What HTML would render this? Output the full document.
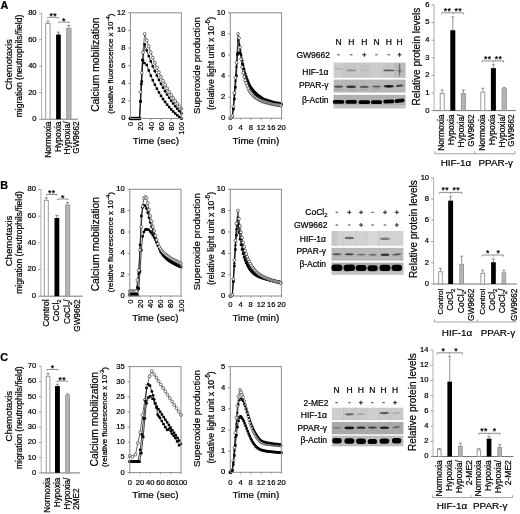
<!DOCTYPE html>
<html><head><meta charset="utf-8"><title>Figure</title>
<style>
html,body{margin:0;padding:0;background:#fff;}
svg{display:block;font-family:'Liberation Sans', Arial, sans-serif;} text{fill:#000;stroke:#000;stroke-width:0.22px;}
</style></head><body>
<svg width="520" height="514" viewBox="0 0 520 514">
<defs><filter id="bl" x="-5%" y="-5%" width="110%" height="110%"><feGaussianBlur stdDeviation="0.45"/></filter><filter id="soft" x="0" y="0" width="520" height="514" filterUnits="userSpaceOnUse"><feGaussianBlur stdDeviation="0.35"/></filter></defs>
<rect width="520" height="514" fill="#fff"/>
<g filter="url(#soft)">
<text x="0.6" y="9" font-size="10.8" font-weight="bold">A</text>
<line x1="41.6" y1="13.2" x2="41.6" y2="119.2" stroke="#b0b0b0" stroke-width="1"/>
<line x1="41.1" y1="119.2" x2="78" y2="119.2" stroke="#777" stroke-width="1"/>
<line x1="39.1" y1="119.2" x2="41.6" y2="119.2" stroke="#a0a0a0" stroke-width="1"/>
<text x="36.6" y="121.1" font-size="7.6" text-anchor="end">0</text>
<line x1="39.1" y1="92.7" x2="41.6" y2="92.7" stroke="#a0a0a0" stroke-width="1"/>
<text x="36.6" y="94.6" font-size="7.6" text-anchor="end">20</text>
<line x1="39.1" y1="66.2" x2="41.6" y2="66.2" stroke="#a0a0a0" stroke-width="1"/>
<text x="36.6" y="68.1" font-size="7.6" text-anchor="end">40</text>
<line x1="39.1" y1="39.7" x2="41.6" y2="39.7" stroke="#a0a0a0" stroke-width="1"/>
<text x="36.6" y="41.6" font-size="7.6" text-anchor="end">60</text>
<line x1="39.1" y1="13.2" x2="41.6" y2="13.2" stroke="#a0a0a0" stroke-width="1"/>
<text x="36.6" y="15.1" font-size="7.6" text-anchor="end">80</text>
<line x1="47.9" y1="23.01" x2="47.9" y2="21.02" stroke="#666" stroke-width="0.8"/>
<line x1="46.4" y1="21.02" x2="49.4" y2="21.02" stroke="#666" stroke-width="0.8"/>
<rect x="45.7" y="23.51" width="4.4" height="95.69" fill="#fff" stroke="#999" stroke-width="1"/>
<line x1="58.45" y1="34.53" x2="58.45" y2="32.15" stroke="#666" stroke-width="0.8"/>
<line x1="56.95" y1="32.15" x2="59.95" y2="32.15" stroke="#666" stroke-width="0.8"/>
<rect x="56.1" y="34.53" width="4.7" height="84.67" fill="#000"/>
<line x1="68.85" y1="27.78" x2="68.85" y2="25.39" stroke="#666" stroke-width="0.8"/>
<line x1="67.35" y1="25.39" x2="70.35" y2="25.39" stroke="#666" stroke-width="0.8"/>
<rect x="66.7" y="28.28" width="4.3" height="90.92" fill="#b4b4b4" stroke="#999" stroke-width="1"/>
<text x="50.6" y="121.4" font-size="8.5" text-anchor="end" transform="rotate(-90 50.6 121.4)">Normoxia</text>
<text x="61.3" y="121.4" font-size="8.5" text-anchor="end" transform="rotate(-90 61.3 121.4)">Hypoxia</text>
<text x="70" y="121.4" font-size="8.5" text-anchor="end" transform="rotate(-90 70 121.4)">Hypoxia/</text>
<text x="79.4" y="121.4" font-size="8.5" text-anchor="end" transform="rotate(-90 79.4 121.4)"><tspan font-size="8.2">GW9662</tspan></text>
<polyline points="47.7,18.6 47.7,17.4 58.6,17.4 58.6,18.6" fill="none" stroke="#777" stroke-width="0.8"/>
<text x="53.15" y="18.9" font-size="8.7" text-anchor="middle" stroke-width="0.1" letter-spacing="0.3">**</text>
<polyline points="58.6,23.3 58.6,22.1 69.1,22.1 69.1,23.3" fill="none" stroke="#777" stroke-width="0.8"/>
<text x="63.85" y="23.6" font-size="8.7" text-anchor="middle" stroke-width="0.1" letter-spacing="0.3">*</text>
<text x="11.8" y="64.5" font-size="9.6" text-anchor="middle" transform="rotate(-90 11.8 64.5)" stroke-width="0.12">Chemotaxis</text>
<text x="22" y="66" font-size="8.5" text-anchor="middle" transform="rotate(-90 22 66)">migration (neutrophils/field)</text>
<text x="0.3" y="188.6" font-size="10.8" font-weight="bold">B</text>
<line x1="40.9" y1="189.5" x2="40.9" y2="296.2" stroke="#b0b0b0" stroke-width="1"/>
<line x1="40.4" y1="296.2" x2="82.7" y2="296.2" stroke="#777" stroke-width="1"/>
<line x1="38.4" y1="296.2" x2="40.9" y2="296.2" stroke="#a0a0a0" stroke-width="1"/>
<text x="35.9" y="298.1" font-size="7.6" text-anchor="end">0</text>
<line x1="38.4" y1="269.52" x2="40.9" y2="269.52" stroke="#a0a0a0" stroke-width="1"/>
<text x="35.9" y="271.42" font-size="7.6" text-anchor="end">20</text>
<line x1="38.4" y1="242.85" x2="40.9" y2="242.85" stroke="#a0a0a0" stroke-width="1"/>
<text x="35.9" y="244.75" font-size="7.6" text-anchor="end">40</text>
<line x1="38.4" y1="216.18" x2="40.9" y2="216.18" stroke="#a0a0a0" stroke-width="1"/>
<text x="35.9" y="218.08" font-size="7.6" text-anchor="end">60</text>
<line x1="38.4" y1="189.5" x2="40.9" y2="189.5" stroke="#a0a0a0" stroke-width="1"/>
<text x="35.9" y="191.4" font-size="7.6" text-anchor="end">80</text>
<line x1="46.3" y1="199.9" x2="46.3" y2="197.9" stroke="#666" stroke-width="0.8"/>
<line x1="44.8" y1="197.9" x2="47.8" y2="197.9" stroke="#666" stroke-width="0.8"/>
<rect x="44.3" y="200.4" width="4" height="95.8" fill="#fff" stroke="#999" stroke-width="1"/>
<line x1="56.9" y1="218.04" x2="56.9" y2="215.37" stroke="#666" stroke-width="0.8"/>
<line x1="55.4" y1="215.37" x2="58.4" y2="215.37" stroke="#666" stroke-width="0.8"/>
<rect x="54.5" y="218.04" width="4.8" height="78.16" fill="#000"/>
<line x1="67.7" y1="204.44" x2="67.7" y2="202.44" stroke="#666" stroke-width="0.8"/>
<line x1="66.2" y1="202.44" x2="69.2" y2="202.44" stroke="#666" stroke-width="0.8"/>
<rect x="65.7" y="204.94" width="4" height="91.26" fill="#b4b4b4" stroke="#999" stroke-width="1"/>
<text x="48.6" y="299.4" font-size="8.5" text-anchor="end" transform="rotate(-90 48.6 299.4)">Control</text>
<text x="59.3" y="299.4" font-size="8.5" text-anchor="end" transform="rotate(-90 59.3 299.4)">CoCl<tspan font-size="70%" dy="2">2</tspan></text>
<text x="70" y="299.4" font-size="8.5" text-anchor="end" transform="rotate(-90 70 299.4)">CoCl<tspan font-size="70%" dy="2">2</tspan><tspan dy="-2">/</tspan></text>
<text x="79.7" y="299.4" font-size="8.5" text-anchor="end" transform="rotate(-90 79.7 299.4)"><tspan font-size="8.2">GW9662</tspan></text>
<polyline points="46.5,195.7 46.5,194.5 57,194.5 57,195.7" fill="none" stroke="#777" stroke-width="0.8"/>
<text x="51.75" y="196" font-size="8.7" text-anchor="middle" stroke-width="0.1" letter-spacing="0.3">**</text>
<polyline points="57.5,200.2 57.5,199 68,199 68,200.2" fill="none" stroke="#777" stroke-width="0.8"/>
<text x="62.75" y="200.5" font-size="8.7" text-anchor="middle" stroke-width="0.1" letter-spacing="0.3">*</text>
<text x="11.8" y="241" font-size="9.6" text-anchor="middle" transform="rotate(-90 11.8 241)" stroke-width="0.12">Chemotaxis</text>
<text x="22" y="242.5" font-size="8.5" text-anchor="middle" transform="rotate(-90 22 242.5)">migration (neutrophils/field)</text>
<text x="0.3" y="361.2" font-size="10.8" font-weight="bold">C</text>
<line x1="41.2" y1="366.3" x2="41.2" y2="472.9" stroke="#b0b0b0" stroke-width="1"/>
<line x1="40.7" y1="472.9" x2="79.8" y2="472.9" stroke="#777" stroke-width="1"/>
<line x1="38.7" y1="472.9" x2="41.2" y2="472.9" stroke="#a0a0a0" stroke-width="1"/>
<text x="36.2" y="474.8" font-size="7.6" text-anchor="end">0</text>
<line x1="38.7" y1="457.67" x2="41.2" y2="457.67" stroke="#a0a0a0" stroke-width="1"/>
<text x="36.2" y="459.57" font-size="7.6" text-anchor="end">10</text>
<line x1="38.7" y1="442.44" x2="41.2" y2="442.44" stroke="#a0a0a0" stroke-width="1"/>
<text x="36.2" y="444.34" font-size="7.6" text-anchor="end">20</text>
<line x1="38.7" y1="427.21" x2="41.2" y2="427.21" stroke="#a0a0a0" stroke-width="1"/>
<text x="36.2" y="429.11" font-size="7.6" text-anchor="end">30</text>
<line x1="38.7" y1="411.99" x2="41.2" y2="411.99" stroke="#a0a0a0" stroke-width="1"/>
<text x="36.2" y="413.89" font-size="7.6" text-anchor="end">40</text>
<line x1="38.7" y1="396.76" x2="41.2" y2="396.76" stroke="#a0a0a0" stroke-width="1"/>
<text x="36.2" y="398.66" font-size="7.6" text-anchor="end">50</text>
<line x1="38.7" y1="381.53" x2="41.2" y2="381.53" stroke="#a0a0a0" stroke-width="1"/>
<text x="36.2" y="383.43" font-size="7.6" text-anchor="end">60</text>
<line x1="38.7" y1="366.3" x2="41.2" y2="366.3" stroke="#a0a0a0" stroke-width="1"/>
<text x="36.2" y="368.2" font-size="7.6" text-anchor="end">70</text>
<line x1="48.05" y1="375.74" x2="48.05" y2="373.31" stroke="#666" stroke-width="0.8"/>
<line x1="46.55" y1="373.31" x2="49.55" y2="373.31" stroke="#666" stroke-width="0.8"/>
<rect x="46.2" y="376.24" width="3.7" height="96.66" fill="#fff" stroke="#999" stroke-width="1"/>
<line x1="57.45" y1="386.1" x2="57.45" y2="384.27" stroke="#666" stroke-width="0.8"/>
<line x1="55.95" y1="384.27" x2="58.95" y2="384.27" stroke="#666" stroke-width="0.8"/>
<rect x="55" y="386.1" width="4.9" height="86.8" fill="#000"/>
<line x1="67.6" y1="394.78" x2="67.6" y2="393.86" stroke="#666" stroke-width="0.8"/>
<line x1="66.1" y1="393.86" x2="69.1" y2="393.86" stroke="#666" stroke-width="0.8"/>
<rect x="65.7" y="395.28" width="3.8" height="77.62" fill="#b4b4b4" stroke="#999" stroke-width="1"/>
<text x="49.6" y="477.6" font-size="8.2" text-anchor="end" transform="rotate(-90 49.6 477.6)">Normoxia</text>
<text x="60.3" y="477.6" font-size="8.2" text-anchor="end" transform="rotate(-90 60.3 477.6)">Hypoxia</text>
<text x="70" y="477.6" font-size="8.2" text-anchor="end" transform="rotate(-90 70 477.6)">Hypoxia/</text>
<text x="79.4" y="509.8" font-size="8.2" transform="rotate(-90 79.4 509.8)">2ME2</text>
<polyline points="47,370.7 47,369.5 58,369.5 58,370.7" fill="none" stroke="#777" stroke-width="0.8"/>
<text x="52.5" y="371" font-size="8.7" text-anchor="middle" stroke-width="0.1" letter-spacing="0.3">*</text>
<polyline points="57,382.2 57,381 67.5,381 67.5,382.2" fill="none" stroke="#777" stroke-width="0.8"/>
<text x="62.25" y="382.5" font-size="8.7" text-anchor="middle" stroke-width="0.1" letter-spacing="0.3">**</text>
<text x="11.8" y="416.2" font-size="9.6" text-anchor="middle" transform="rotate(-90 11.8 416.2)" stroke-width="0.12">Chemotaxis</text>
<text x="22" y="417.7" font-size="8.5" text-anchor="middle" transform="rotate(-90 22 417.7)">migration (neutrophils/field)</text>
<line x1="128.2" y1="118.5" x2="130.4" y2="118.5" stroke="#8c8c8c" stroke-width="1"/>
<text x="125.4" y="120.4" font-size="7.6" text-anchor="end">0</text>
<line x1="128.2" y1="100.88" x2="130.4" y2="100.88" stroke="#8c8c8c" stroke-width="1"/>
<text x="125.4" y="102.78" font-size="7.6" text-anchor="end">2</text>
<line x1="128.2" y1="83.27" x2="130.4" y2="83.27" stroke="#8c8c8c" stroke-width="1"/>
<text x="125.4" y="85.17" font-size="7.6" text-anchor="end">4</text>
<line x1="128.2" y1="65.65" x2="130.4" y2="65.65" stroke="#8c8c8c" stroke-width="1"/>
<text x="125.4" y="67.55" font-size="7.6" text-anchor="end">6</text>
<line x1="128.2" y1="48.03" x2="130.4" y2="48.03" stroke="#8c8c8c" stroke-width="1"/>
<text x="125.4" y="49.93" font-size="7.6" text-anchor="end">8</text>
<line x1="128.2" y1="30.42" x2="130.4" y2="30.42" stroke="#8c8c8c" stroke-width="1"/>
<text x="125.4" y="32.32" font-size="7.6" text-anchor="end">10</text>
<line x1="128.2" y1="12.8" x2="130.4" y2="12.8" stroke="#8c8c8c" stroke-width="1"/>
<text x="125.4" y="14.7" font-size="7.6" text-anchor="end">12</text>
<line x1="130.4" y1="118.5" x2="130.4" y2="120" stroke="#8c8c8c" stroke-width="1"/>
<text x="133.1" y="122" font-size="7.6" text-anchor="end" transform="rotate(-90 133.1 122)">0</text>
<line x1="140.6" y1="118.5" x2="140.6" y2="120" stroke="#8c8c8c" stroke-width="1"/>
<text x="143.3" y="122" font-size="7.6" text-anchor="end" transform="rotate(-90 143.3 122)">20</text>
<line x1="150.8" y1="118.5" x2="150.8" y2="120" stroke="#8c8c8c" stroke-width="1"/>
<text x="153.5" y="122" font-size="7.6" text-anchor="end" transform="rotate(-90 153.5 122)">40</text>
<line x1="161" y1="118.5" x2="161" y2="120" stroke="#8c8c8c" stroke-width="1"/>
<text x="163.7" y="122" font-size="7.6" text-anchor="end" transform="rotate(-90 163.7 122)">60</text>
<line x1="171.2" y1="118.5" x2="171.2" y2="120" stroke="#8c8c8c" stroke-width="1"/>
<text x="173.9" y="122" font-size="7.6" text-anchor="end" transform="rotate(-90 173.9 122)">80</text>
<line x1="181.4" y1="118.5" x2="181.4" y2="120" stroke="#8c8c8c" stroke-width="1"/>
<text x="184.1" y="122" font-size="7.6" text-anchor="end" transform="rotate(-90 184.1 122)">100</text>
<g>
<polyline points="130.4,118.5 131.93,118.5 133.46,118.5 134.99,118.5 136.52,118.5 138.05,118.5 139.58,118.5 140.6,92.08 141.77,72.7 142.9,52.44 144.68,33.94 146.72,40.41 148.76,46.53 150.8,52.3 152.84,57.75 154.88,62.9 156.92,67.77 158.96,72.36 161,76.7 163.04,80.79 165.08,84.66 167.12,88.32 169.16,91.77 171.2,95.03 173.24,98.11 175.28,101.02 177.32,103.77 179.36,106.36 181.4,108.81" fill="none" stroke="#000" stroke-width="0.6"/>
<polyline points="130.4,118.5 131.93,118.5 133.46,118.5 134.99,118.5 136.52,118.5 138.05,118.5 139.58,118.5 140.6,100.88 141.77,81.5 142.9,60.37 144.68,44.51 146.72,50.47 148.76,56.1 150.8,61.42 152.84,66.44 154.88,71.19 156.92,75.67 158.96,79.9 161,83.9 163.04,87.67 165.08,91.24 167.12,94.6 169.16,97.78 171.2,100.79 173.24,103.62 175.28,106.3 177.32,108.83 179.36,111.22 181.4,113.48" fill="none" stroke="#000" stroke-width="0.75"/>
<polyline points="130.4,118.5 131.93,118.5 133.46,118.5 134.99,118.5 136.52,118.5 138.05,118.5 139.58,118.5 140.5,101.76 141.37,84.15 142.49,59.92 144.43,63.01 146.72,64.95 148.76,70.48 150.8,75.6 152.84,80.32 154.88,84.68 156.92,88.7 158.96,92.41 161,95.84 163.04,99 165.08,101.93 167.12,104.62 169.16,107.11 171.2,109.41 173.24,111.53 175.28,113.49 177.32,115.3 179.36,116.96 181.4,118.5" fill="none" stroke="#000" stroke-width="0.75"/>
<circle cx="130.4" cy="118.5" r="1.45" fill="#fff" stroke="#111" stroke-width="0.55"/>
<circle cx="131.93" cy="118.5" r="1.45" fill="#fff" stroke="#111" stroke-width="0.55"/>
<circle cx="133.46" cy="118.5" r="1.45" fill="#fff" stroke="#111" stroke-width="0.55"/>
<circle cx="134.99" cy="118.5" r="1.45" fill="#fff" stroke="#111" stroke-width="0.55"/>
<circle cx="136.52" cy="118.5" r="1.45" fill="#fff" stroke="#111" stroke-width="0.55"/>
<circle cx="138.05" cy="118.5" r="1.45" fill="#fff" stroke="#111" stroke-width="0.55"/>
<circle cx="139.58" cy="118.5" r="1.45" fill="#fff" stroke="#111" stroke-width="0.55"/>
<circle cx="140.6" cy="92.08" r="1.45" fill="#fff" stroke="#111" stroke-width="0.55"/>
<circle cx="141.77" cy="72.7" r="1.45" fill="#fff" stroke="#111" stroke-width="0.55"/>
<circle cx="142.9" cy="52.44" r="1.45" fill="#fff" stroke="#111" stroke-width="0.55"/>
<circle cx="144.68" cy="33.94" r="1.45" fill="#fff" stroke="#111" stroke-width="0.55"/>
<circle cx="146.72" cy="40.41" r="1.45" fill="#fff" stroke="#111" stroke-width="0.55"/>
<circle cx="148.76" cy="46.53" r="1.45" fill="#fff" stroke="#111" stroke-width="0.55"/>
<circle cx="150.8" cy="52.3" r="1.45" fill="#fff" stroke="#111" stroke-width="0.55"/>
<circle cx="152.84" cy="57.75" r="1.45" fill="#fff" stroke="#111" stroke-width="0.55"/>
<circle cx="154.88" cy="62.9" r="1.45" fill="#fff" stroke="#111" stroke-width="0.55"/>
<circle cx="156.92" cy="67.77" r="1.45" fill="#fff" stroke="#111" stroke-width="0.55"/>
<circle cx="158.96" cy="72.36" r="1.45" fill="#fff" stroke="#111" stroke-width="0.55"/>
<circle cx="161" cy="76.7" r="1.45" fill="#fff" stroke="#111" stroke-width="0.55"/>
<circle cx="163.04" cy="80.79" r="1.45" fill="#fff" stroke="#111" stroke-width="0.55"/>
<circle cx="165.08" cy="84.66" r="1.45" fill="#fff" stroke="#111" stroke-width="0.55"/>
<circle cx="167.12" cy="88.32" r="1.45" fill="#fff" stroke="#111" stroke-width="0.55"/>
<circle cx="169.16" cy="91.77" r="1.45" fill="#fff" stroke="#111" stroke-width="0.55"/>
<circle cx="171.2" cy="95.03" r="1.45" fill="#fff" stroke="#111" stroke-width="0.55"/>
<circle cx="173.24" cy="98.11" r="1.45" fill="#fff" stroke="#111" stroke-width="0.55"/>
<circle cx="175.28" cy="101.02" r="1.45" fill="#fff" stroke="#111" stroke-width="0.55"/>
<circle cx="177.32" cy="103.77" r="1.45" fill="#fff" stroke="#111" stroke-width="0.55"/>
<circle cx="179.36" cy="106.36" r="1.45" fill="#fff" stroke="#111" stroke-width="0.55"/>
<circle cx="181.4" cy="108.81" r="1.45" fill="#fff" stroke="#111" stroke-width="0.55"/>
<circle cx="130.4" cy="118.5" r="1.4" fill="#000"/>
<circle cx="131.93" cy="118.5" r="1.4" fill="#000"/>
<circle cx="133.46" cy="118.5" r="1.4" fill="#000"/>
<circle cx="134.99" cy="118.5" r="1.4" fill="#000"/>
<circle cx="136.52" cy="118.5" r="1.4" fill="#000"/>
<circle cx="138.05" cy="118.5" r="1.4" fill="#000"/>
<circle cx="139.58" cy="118.5" r="1.4" fill="#000"/>
<circle cx="140.6" cy="100.88" r="1.4" fill="#000"/>
<circle cx="141.77" cy="81.5" r="1.4" fill="#000"/>
<circle cx="142.9" cy="60.37" r="1.4" fill="#000"/>
<circle cx="144.68" cy="44.51" r="1.4" fill="#000"/>
<circle cx="146.72" cy="50.47" r="1.4" fill="#000"/>
<circle cx="148.76" cy="56.1" r="1.4" fill="#000"/>
<circle cx="150.8" cy="61.42" r="1.4" fill="#000"/>
<circle cx="152.84" cy="66.44" r="1.4" fill="#000"/>
<circle cx="154.88" cy="71.19" r="1.4" fill="#000"/>
<circle cx="156.92" cy="75.67" r="1.4" fill="#000"/>
<circle cx="158.96" cy="79.9" r="1.4" fill="#000"/>
<circle cx="161" cy="83.9" r="1.4" fill="#000"/>
<circle cx="163.04" cy="87.67" r="1.4" fill="#000"/>
<circle cx="165.08" cy="91.24" r="1.4" fill="#000"/>
<circle cx="167.12" cy="94.6" r="1.4" fill="#000"/>
<circle cx="169.16" cy="97.78" r="1.4" fill="#000"/>
<circle cx="171.2" cy="100.79" r="1.4" fill="#000"/>
<circle cx="173.24" cy="103.62" r="1.4" fill="#000"/>
<circle cx="175.28" cy="106.3" r="1.4" fill="#000"/>
<circle cx="177.32" cy="108.83" r="1.4" fill="#000"/>
<circle cx="179.36" cy="111.22" r="1.4" fill="#000"/>
<circle cx="181.4" cy="113.48" r="1.4" fill="#000"/>
<rect x="129.15" y="117.25" width="2.5" height="2.5" fill="#000"/>
<rect x="130.68" y="117.25" width="2.5" height="2.5" fill="#000"/>
<rect x="132.21" y="117.25" width="2.5" height="2.5" fill="#000"/>
<rect x="133.74" y="117.25" width="2.5" height="2.5" fill="#000"/>
<rect x="135.27" y="117.25" width="2.5" height="2.5" fill="#000"/>
<rect x="136.8" y="117.25" width="2.5" height="2.5" fill="#000"/>
<rect x="138.33" y="117.25" width="2.5" height="2.5" fill="#000"/>
<rect x="139.25" y="100.51" width="2.5" height="2.5" fill="#000"/>
<rect x="140.12" y="82.9" width="2.5" height="2.5" fill="#000"/>
<rect x="141.24" y="58.67" width="2.5" height="2.5" fill="#000"/>
<rect x="143.18" y="61.76" width="2.5" height="2.5" fill="#000"/>
<rect x="145.47" y="63.7" width="2.5" height="2.5" fill="#000"/>
<rect x="147.51" y="69.23" width="2.5" height="2.5" fill="#000"/>
<rect x="149.55" y="74.35" width="2.5" height="2.5" fill="#000"/>
<rect x="151.59" y="79.07" width="2.5" height="2.5" fill="#000"/>
<rect x="153.63" y="83.43" width="2.5" height="2.5" fill="#000"/>
<rect x="155.67" y="87.45" width="2.5" height="2.5" fill="#000"/>
<rect x="157.71" y="91.16" width="2.5" height="2.5" fill="#000"/>
<rect x="159.75" y="94.59" width="2.5" height="2.5" fill="#000"/>
<rect x="161.79" y="97.75" width="2.5" height="2.5" fill="#000"/>
<rect x="163.83" y="100.68" width="2.5" height="2.5" fill="#000"/>
<rect x="165.87" y="103.37" width="2.5" height="2.5" fill="#000"/>
<rect x="167.91" y="105.86" width="2.5" height="2.5" fill="#000"/>
<rect x="169.95" y="108.16" width="2.5" height="2.5" fill="#000"/>
<rect x="171.99" y="110.28" width="2.5" height="2.5" fill="#000"/>
<rect x="174.03" y="112.24" width="2.5" height="2.5" fill="#000"/>
<rect x="176.07" y="114.05" width="2.5" height="2.5" fill="#000"/>
<rect x="178.11" y="115.71" width="2.5" height="2.5" fill="#000"/>
<rect x="180.15" y="117.25" width="2.5" height="2.5" fill="#000"/>
</g>
<rect x="130.4" y="12.8" width="51" height="105.7" fill="none" stroke="#8c8c8c" stroke-width="1"/>
<text x="98.9" y="64.65" font-size="10.3" text-anchor="middle" transform="rotate(-90 98.9 64.65)" stroke-width="0.12">Calcium mobilization</text>
<text x="113.3" y="63.65" font-size="7.9" text-anchor="middle" transform="rotate(-90 113.3 63.65)">(relative fluorescence x 10<tspan font-size="5.93" dy="-3.6">-4</tspan><tspan dy="3.6">)</tspan></text>
<text x="155.9" y="144.2" font-size="9.9" text-anchor="middle" stroke-width="0.12">Time (sec)</text>
<line x1="228.1" y1="118.2" x2="230.3" y2="118.2" stroke="#8c8c8c" stroke-width="1"/>
<text x="225.3" y="120.1" font-size="7.6" text-anchor="end">0</text>
<line x1="228.1" y1="97.12" x2="230.3" y2="97.12" stroke="#8c8c8c" stroke-width="1"/>
<text x="225.3" y="99.02" font-size="7.6" text-anchor="end">2</text>
<line x1="228.1" y1="76.04" x2="230.3" y2="76.04" stroke="#8c8c8c" stroke-width="1"/>
<text x="225.3" y="77.94" font-size="7.6" text-anchor="end">4</text>
<line x1="228.1" y1="54.96" x2="230.3" y2="54.96" stroke="#8c8c8c" stroke-width="1"/>
<text x="225.3" y="56.86" font-size="7.6" text-anchor="end">6</text>
<line x1="228.1" y1="33.88" x2="230.3" y2="33.88" stroke="#8c8c8c" stroke-width="1"/>
<text x="225.3" y="35.78" font-size="7.6" text-anchor="end">8</text>
<line x1="228.1" y1="12.8" x2="230.3" y2="12.8" stroke="#8c8c8c" stroke-width="1"/>
<text x="225.3" y="14.7" font-size="7.6" text-anchor="end">10</text>
<line x1="230.3" y1="118.2" x2="230.3" y2="119.7" stroke="#8c8c8c" stroke-width="1"/>
<text x="230.3" y="130.3" font-size="7.6" text-anchor="middle">0</text>
<line x1="240.56" y1="118.2" x2="240.56" y2="119.7" stroke="#8c8c8c" stroke-width="1"/>
<text x="240.56" y="130.3" font-size="7.6" text-anchor="middle">4</text>
<line x1="250.82" y1="118.2" x2="250.82" y2="119.7" stroke="#8c8c8c" stroke-width="1"/>
<text x="250.82" y="130.3" font-size="7.6" text-anchor="middle">8</text>
<line x1="261.08" y1="118.2" x2="261.08" y2="119.7" stroke="#8c8c8c" stroke-width="1"/>
<text x="261.08" y="130.3" font-size="7.6" text-anchor="middle">12</text>
<line x1="271.34" y1="118.2" x2="271.34" y2="119.7" stroke="#8c8c8c" stroke-width="1"/>
<text x="271.34" y="130.3" font-size="7.6" text-anchor="middle">16</text>
<line x1="281.6" y1="118.2" x2="281.6" y2="119.7" stroke="#8c8c8c" stroke-width="1"/>
<text x="281.6" y="130.3" font-size="7.6" text-anchor="middle">20</text>
<g>
<polyline points="230.3,118.2 231.33,117.41 232.35,115.84 233.38,107.21 234.4,94.64 235.43,80.51 236.46,66.37 237.48,54.6 238.25,39.68 239.28,44.31 240.3,49.43 241.33,54.7 242.36,59.85 243.38,64.97 244.41,68.93 245.43,72.88 246.46,75.78 247.49,78.68 248.51,81.17 249.54,83.66 250.56,85.88 251.59,87.28 252.62,88.69 253.64,90.09 254.67,91.29 255.69,92.27 256.72,93.26 257.75,94.24 258.77,95.03 259.8,95.77 260.82,96.5 261.85,97.23 262.88,97.97 263.9,98.7 264.93,99.03 265.95,99.37 266.98,99.7 268.01,100.03 269.03,100.37 270.06,100.7 271.08,101.03 272.11,101.36 273.14,101.7 274.16,101.96 275.19,102.16 276.21,102.36 277.24,102.55 278.27,102.75 279.29,102.95 280.32,103.15 281.34,103.35" fill="none" stroke="#000" stroke-width="0.75"/>
<polyline points="230.3,118.2 231.33,117.56 232.35,116.27 233.38,109.2 234.4,98.91 235.43,87.34 236.46,75.77 237.48,53.91 238.51,52.85 239.53,52.85 240.56,53.91 241.59,59.18 242.61,64.09 243.64,68.66 244.66,72.88 245.69,76.76 246.72,79.66 247.74,82.41 248.77,84.71 249.79,87.01 250.82,88.86 251.85,90.27 252.87,91.67 253.9,93.08 254.92,94.17 255.95,95.15 256.98,96.14 258,97.12 259.03,97.67 260.05,98.22 261.08,98.77 262.11,99.32 263.13,99.87 264.16,100.36 265.18,100.66 266.21,100.96 267.24,101.26 268.26,101.56 269.29,101.85 270.31,102.15 271.34,102.45 272.37,102.75 273.39,103.05 274.42,103.26 275.44,103.43 276.47,103.6 277.5,103.77 278.52,103.94 279.55,104.11 280.57,104.28 281.6,104.46" fill="none" stroke="#000" stroke-width="0.75"/>
<polyline points="230.3,118.2 231.33,117.36 232.35,115.67 233.38,106.4 234.4,92.9 235.43,77.73 236.46,62.55 238,33.88 239.02,38.1 240.05,47.58 241.07,59.18 242.1,67.08 243.13,72.81 244.15,77.08 245.18,80.32 246.2,83.22 247.23,85.81 248.26,88.3 249.28,90.8 250.31,92.02 251.33,93.24 252.36,94.46 253.39,95.68 254.41,96.76 255.44,97.43 256.46,98.09 257.49,98.76 258.52,99.42 259.54,99.98 260.57,100.42 261.59,100.86 262.62,101.31 263.65,101.75 264.67,102.05 265.7,102.31 266.72,102.56 267.75,102.82 268.78,103.08 269.8,103.33 270.83,103.59 271.85,103.84 272.88,104.1 273.91,104.33 274.93,104.48 275.96,104.64 276.98,104.8 278.01,104.96 279.04,105.12 280.06,105.28 281.09,105.43" fill="none" stroke="#000" stroke-width="0.6"/>
<path d="M230.3 116.7L231.7 119.3L228.9 119.3Z" fill="#000"/>
<path d="M231.33 115.91L232.73 118.51L229.93 118.51Z" fill="#000"/>
<path d="M232.35 114.34L233.75 116.94L230.95 116.94Z" fill="#000"/>
<path d="M233.38 105.71L234.78 108.31L231.98 108.31Z" fill="#000"/>
<path d="M234.4 93.14L235.8 95.74L233 95.74Z" fill="#000"/>
<path d="M235.43 79.01L236.83 81.61L234.03 81.61Z" fill="#000"/>
<path d="M236.46 64.87L237.86 67.47L235.06 67.47Z" fill="#000"/>
<path d="M237.48 53.1L238.88 55.7L236.08 55.7Z" fill="#000"/>
<path d="M238.25 38.18L239.65 40.78L236.85 40.78Z" fill="#000"/>
<path d="M239.28 42.81L240.68 45.41L237.88 45.41Z" fill="#000"/>
<path d="M240.3 47.93L241.7 50.53L238.9 50.53Z" fill="#000"/>
<path d="M241.33 53.2L242.73 55.8L239.93 55.8Z" fill="#000"/>
<path d="M242.36 58.35L243.76 60.95L240.96 60.95Z" fill="#000"/>
<path d="M243.38 63.47L244.78 66.07L241.98 66.07Z" fill="#000"/>
<path d="M244.41 67.43L245.81 70.03L243.01 70.03Z" fill="#000"/>
<path d="M245.43 71.38L246.83 73.98L244.03 73.98Z" fill="#000"/>
<path d="M246.46 74.28L247.86 76.88L245.06 76.88Z" fill="#000"/>
<path d="M247.49 77.18L248.89 79.78L246.09 79.78Z" fill="#000"/>
<path d="M248.51 79.67L249.91 82.27L247.11 82.27Z" fill="#000"/>
<path d="M249.54 82.16L250.94 84.76L248.14 84.76Z" fill="#000"/>
<path d="M250.56 84.38L251.96 86.98L249.16 86.98Z" fill="#000"/>
<path d="M251.59 85.78L252.99 88.38L250.19 88.38Z" fill="#000"/>
<path d="M252.62 87.19L254.02 89.79L251.22 89.79Z" fill="#000"/>
<path d="M253.64 88.59L255.04 91.19L252.24 91.19Z" fill="#000"/>
<path d="M254.67 89.79L256.07 92.39L253.27 92.39Z" fill="#000"/>
<path d="M255.69 90.77L257.09 93.37L254.29 93.37Z" fill="#000"/>
<path d="M256.72 91.76L258.12 94.36L255.32 94.36Z" fill="#000"/>
<path d="M257.75 92.74L259.15 95.34L256.35 95.34Z" fill="#000"/>
<path d="M258.77 93.53L260.17 96.13L257.37 96.13Z" fill="#000"/>
<path d="M259.8 94.27L261.2 96.87L258.4 96.87Z" fill="#000"/>
<path d="M260.82 95L262.22 97.6L259.42 97.6Z" fill="#000"/>
<path d="M261.85 95.73L263.25 98.33L260.45 98.33Z" fill="#000"/>
<path d="M262.88 96.47L264.28 99.07L261.48 99.07Z" fill="#000"/>
<path d="M263.9 97.2L265.3 99.8L262.5 99.8Z" fill="#000"/>
<path d="M264.93 97.53L266.33 100.13L263.53 100.13Z" fill="#000"/>
<path d="M265.95 97.87L267.35 100.47L264.55 100.47Z" fill="#000"/>
<path d="M266.98 98.2L268.38 100.8L265.58 100.8Z" fill="#000"/>
<path d="M268.01 98.53L269.41 101.13L266.61 101.13Z" fill="#000"/>
<path d="M269.03 98.87L270.43 101.47L267.63 101.47Z" fill="#000"/>
<path d="M270.06 99.2L271.46 101.8L268.66 101.8Z" fill="#000"/>
<path d="M271.08 99.53L272.48 102.13L269.68 102.13Z" fill="#000"/>
<path d="M272.11 99.86L273.51 102.46L270.71 102.46Z" fill="#000"/>
<path d="M273.14 100.2L274.54 102.8L271.74 102.8Z" fill="#000"/>
<path d="M274.16 100.46L275.56 103.06L272.76 103.06Z" fill="#000"/>
<path d="M275.19 100.66L276.59 103.26L273.79 103.26Z" fill="#000"/>
<path d="M276.21 100.86L277.61 103.46L274.81 103.46Z" fill="#000"/>
<path d="M277.24 101.05L278.64 103.65L275.84 103.65Z" fill="#000"/>
<path d="M278.27 101.25L279.67 103.85L276.87 103.85Z" fill="#000"/>
<path d="M279.29 101.45L280.69 104.05L277.89 104.05Z" fill="#000"/>
<path d="M280.32 101.65L281.72 104.25L278.92 104.25Z" fill="#000"/>
<path d="M281.34 101.85L282.74 104.45L279.94 104.45Z" fill="#000"/>
<rect x="229.05" y="116.95" width="2.5" height="2.5" fill="#000"/>
<rect x="230.08" y="116.31" width="2.5" height="2.5" fill="#000"/>
<rect x="231.1" y="115.02" width="2.5" height="2.5" fill="#000"/>
<rect x="232.13" y="107.95" width="2.5" height="2.5" fill="#000"/>
<rect x="233.15" y="97.66" width="2.5" height="2.5" fill="#000"/>
<rect x="234.18" y="86.09" width="2.5" height="2.5" fill="#000"/>
<rect x="235.21" y="74.52" width="2.5" height="2.5" fill="#000"/>
<rect x="236.23" y="52.66" width="2.5" height="2.5" fill="#000"/>
<rect x="237.26" y="51.6" width="2.5" height="2.5" fill="#000"/>
<rect x="238.28" y="51.6" width="2.5" height="2.5" fill="#000"/>
<rect x="239.31" y="52.66" width="2.5" height="2.5" fill="#000"/>
<rect x="240.34" y="57.93" width="2.5" height="2.5" fill="#000"/>
<rect x="241.36" y="62.84" width="2.5" height="2.5" fill="#000"/>
<rect x="242.39" y="67.41" width="2.5" height="2.5" fill="#000"/>
<rect x="243.41" y="71.63" width="2.5" height="2.5" fill="#000"/>
<rect x="244.44" y="75.51" width="2.5" height="2.5" fill="#000"/>
<rect x="245.47" y="78.41" width="2.5" height="2.5" fill="#000"/>
<rect x="246.49" y="81.16" width="2.5" height="2.5" fill="#000"/>
<rect x="247.52" y="83.46" width="2.5" height="2.5" fill="#000"/>
<rect x="248.54" y="85.76" width="2.5" height="2.5" fill="#000"/>
<rect x="249.57" y="87.61" width="2.5" height="2.5" fill="#000"/>
<rect x="250.6" y="89.02" width="2.5" height="2.5" fill="#000"/>
<rect x="251.62" y="90.42" width="2.5" height="2.5" fill="#000"/>
<rect x="252.65" y="91.83" width="2.5" height="2.5" fill="#000"/>
<rect x="253.67" y="92.92" width="2.5" height="2.5" fill="#000"/>
<rect x="254.7" y="93.9" width="2.5" height="2.5" fill="#000"/>
<rect x="255.73" y="94.89" width="2.5" height="2.5" fill="#000"/>
<rect x="256.75" y="95.87" width="2.5" height="2.5" fill="#000"/>
<rect x="257.78" y="96.42" width="2.5" height="2.5" fill="#000"/>
<rect x="258.8" y="96.97" width="2.5" height="2.5" fill="#000"/>
<rect x="259.83" y="97.52" width="2.5" height="2.5" fill="#000"/>
<rect x="260.86" y="98.07" width="2.5" height="2.5" fill="#000"/>
<rect x="261.88" y="98.62" width="2.5" height="2.5" fill="#000"/>
<rect x="262.91" y="99.11" width="2.5" height="2.5" fill="#000"/>
<rect x="263.93" y="99.41" width="2.5" height="2.5" fill="#000"/>
<rect x="264.96" y="99.71" width="2.5" height="2.5" fill="#000"/>
<rect x="265.99" y="100.01" width="2.5" height="2.5" fill="#000"/>
<rect x="267.01" y="100.31" width="2.5" height="2.5" fill="#000"/>
<rect x="268.04" y="100.6" width="2.5" height="2.5" fill="#000"/>
<rect x="269.06" y="100.9" width="2.5" height="2.5" fill="#000"/>
<rect x="270.09" y="101.2" width="2.5" height="2.5" fill="#000"/>
<rect x="271.12" y="101.5" width="2.5" height="2.5" fill="#000"/>
<rect x="272.14" y="101.8" width="2.5" height="2.5" fill="#000"/>
<rect x="273.17" y="102.01" width="2.5" height="2.5" fill="#000"/>
<rect x="274.19" y="102.18" width="2.5" height="2.5" fill="#000"/>
<rect x="275.22" y="102.35" width="2.5" height="2.5" fill="#000"/>
<rect x="276.25" y="102.52" width="2.5" height="2.5" fill="#000"/>
<rect x="277.27" y="102.69" width="2.5" height="2.5" fill="#000"/>
<rect x="278.3" y="102.86" width="2.5" height="2.5" fill="#000"/>
<rect x="279.32" y="103.03" width="2.5" height="2.5" fill="#000"/>
<rect x="280.35" y="103.21" width="2.5" height="2.5" fill="#000"/>
<circle cx="230.3" cy="118.2" r="1.45" fill="#fff" stroke="#111" stroke-width="0.55"/>
<circle cx="231.33" cy="117.36" r="1.45" fill="#fff" stroke="#111" stroke-width="0.55"/>
<circle cx="232.35" cy="115.67" r="1.45" fill="#fff" stroke="#111" stroke-width="0.55"/>
<circle cx="233.38" cy="106.4" r="1.45" fill="#fff" stroke="#111" stroke-width="0.55"/>
<circle cx="234.4" cy="92.9" r="1.45" fill="#fff" stroke="#111" stroke-width="0.55"/>
<circle cx="235.43" cy="77.73" r="1.45" fill="#fff" stroke="#111" stroke-width="0.55"/>
<circle cx="236.46" cy="62.55" r="1.45" fill="#fff" stroke="#111" stroke-width="0.55"/>
<circle cx="238" cy="33.88" r="1.45" fill="#fff" stroke="#111" stroke-width="0.55"/>
<circle cx="239.02" cy="38.1" r="1.45" fill="#fff" stroke="#111" stroke-width="0.55"/>
<circle cx="240.05" cy="47.58" r="1.45" fill="#fff" stroke="#111" stroke-width="0.55"/>
<circle cx="241.07" cy="59.18" r="1.45" fill="#fff" stroke="#111" stroke-width="0.55"/>
<circle cx="242.1" cy="67.08" r="1.45" fill="#fff" stroke="#111" stroke-width="0.55"/>
<circle cx="243.13" cy="72.81" r="1.45" fill="#fff" stroke="#111" stroke-width="0.55"/>
<circle cx="244.15" cy="77.08" r="1.45" fill="#fff" stroke="#111" stroke-width="0.55"/>
<circle cx="245.18" cy="80.32" r="1.45" fill="#fff" stroke="#111" stroke-width="0.55"/>
<circle cx="246.2" cy="83.22" r="1.45" fill="#fff" stroke="#111" stroke-width="0.55"/>
<circle cx="247.23" cy="85.81" r="1.45" fill="#fff" stroke="#111" stroke-width="0.55"/>
<circle cx="248.26" cy="88.3" r="1.45" fill="#fff" stroke="#111" stroke-width="0.55"/>
<circle cx="249.28" cy="90.8" r="1.45" fill="#fff" stroke="#111" stroke-width="0.55"/>
<circle cx="250.31" cy="92.02" r="1.45" fill="#fff" stroke="#111" stroke-width="0.55"/>
<circle cx="251.33" cy="93.24" r="1.45" fill="#fff" stroke="#111" stroke-width="0.55"/>
<circle cx="252.36" cy="94.46" r="1.45" fill="#fff" stroke="#111" stroke-width="0.55"/>
<circle cx="253.39" cy="95.68" r="1.45" fill="#fff" stroke="#111" stroke-width="0.55"/>
<circle cx="254.41" cy="96.76" r="1.45" fill="#fff" stroke="#111" stroke-width="0.55"/>
<circle cx="255.44" cy="97.43" r="1.45" fill="#fff" stroke="#111" stroke-width="0.55"/>
<circle cx="256.46" cy="98.09" r="1.45" fill="#fff" stroke="#111" stroke-width="0.55"/>
<circle cx="257.49" cy="98.76" r="1.45" fill="#fff" stroke="#111" stroke-width="0.55"/>
<circle cx="258.52" cy="99.42" r="1.45" fill="#fff" stroke="#111" stroke-width="0.55"/>
<circle cx="259.54" cy="99.98" r="1.45" fill="#fff" stroke="#111" stroke-width="0.55"/>
<circle cx="260.57" cy="100.42" r="1.45" fill="#fff" stroke="#111" stroke-width="0.55"/>
<circle cx="261.59" cy="100.86" r="1.45" fill="#fff" stroke="#111" stroke-width="0.55"/>
<circle cx="262.62" cy="101.31" r="1.45" fill="#fff" stroke="#111" stroke-width="0.55"/>
<circle cx="263.65" cy="101.75" r="1.45" fill="#fff" stroke="#111" stroke-width="0.55"/>
<circle cx="264.67" cy="102.05" r="1.45" fill="#fff" stroke="#111" stroke-width="0.55"/>
<circle cx="265.7" cy="102.31" r="1.45" fill="#fff" stroke="#111" stroke-width="0.55"/>
<circle cx="266.72" cy="102.56" r="1.45" fill="#fff" stroke="#111" stroke-width="0.55"/>
<circle cx="267.75" cy="102.82" r="1.45" fill="#fff" stroke="#111" stroke-width="0.55"/>
<circle cx="268.78" cy="103.08" r="1.45" fill="#fff" stroke="#111" stroke-width="0.55"/>
<circle cx="269.8" cy="103.33" r="1.45" fill="#fff" stroke="#111" stroke-width="0.55"/>
<circle cx="270.83" cy="103.59" r="1.45" fill="#fff" stroke="#111" stroke-width="0.55"/>
<circle cx="271.85" cy="103.84" r="1.45" fill="#fff" stroke="#111" stroke-width="0.55"/>
<circle cx="272.88" cy="104.1" r="1.45" fill="#fff" stroke="#111" stroke-width="0.55"/>
<circle cx="273.91" cy="104.33" r="1.45" fill="#fff" stroke="#111" stroke-width="0.55"/>
<circle cx="274.93" cy="104.48" r="1.45" fill="#fff" stroke="#111" stroke-width="0.55"/>
<circle cx="275.96" cy="104.64" r="1.45" fill="#fff" stroke="#111" stroke-width="0.55"/>
<circle cx="276.98" cy="104.8" r="1.45" fill="#fff" stroke="#111" stroke-width="0.55"/>
<circle cx="278.01" cy="104.96" r="1.45" fill="#fff" stroke="#111" stroke-width="0.55"/>
<circle cx="279.04" cy="105.12" r="1.45" fill="#fff" stroke="#111" stroke-width="0.55"/>
<circle cx="280.06" cy="105.28" r="1.45" fill="#fff" stroke="#111" stroke-width="0.55"/>
<circle cx="281.09" cy="105.43" r="1.45" fill="#fff" stroke="#111" stroke-width="0.55"/>
</g>
<rect x="230.3" y="12.8" width="51.3" height="105.4" fill="none" stroke="#8c8c8c" stroke-width="1"/>
<text x="200.2" y="65.5" font-size="9.7" text-anchor="middle" transform="rotate(-90 200.2 65.5)" stroke-width="0.12">Superoxide production</text>
<text x="213.6" y="63.5" font-size="8.7" text-anchor="middle" transform="rotate(-90 213.6 63.5)">(relative light unit x 10<tspan font-size="6.52" dy="-3.6">-6</tspan><tspan dy="3.6">)</tspan></text>
<text x="255.95" y="144.2" font-size="9.9" text-anchor="middle" stroke-width="0.12">Time (min)</text>
<line x1="127.6" y1="296" x2="129.8" y2="296" stroke="#8c8c8c" stroke-width="1"/>
<text x="124.8" y="297.9" font-size="7.6" text-anchor="end">0</text>
<line x1="127.6" y1="274.66" x2="129.8" y2="274.66" stroke="#8c8c8c" stroke-width="1"/>
<text x="124.8" y="276.56" font-size="7.6" text-anchor="end">2</text>
<line x1="127.6" y1="253.32" x2="129.8" y2="253.32" stroke="#8c8c8c" stroke-width="1"/>
<text x="124.8" y="255.22" font-size="7.6" text-anchor="end">4</text>
<line x1="127.6" y1="231.98" x2="129.8" y2="231.98" stroke="#8c8c8c" stroke-width="1"/>
<text x="124.8" y="233.88" font-size="7.6" text-anchor="end">6</text>
<line x1="127.6" y1="210.64" x2="129.8" y2="210.64" stroke="#8c8c8c" stroke-width="1"/>
<text x="124.8" y="212.54" font-size="7.6" text-anchor="end">8</text>
<line x1="127.6" y1="189.3" x2="129.8" y2="189.3" stroke="#8c8c8c" stroke-width="1"/>
<text x="124.8" y="191.2" font-size="7.6" text-anchor="end">10</text>
<line x1="129.8" y1="296" x2="129.8" y2="297.5" stroke="#8c8c8c" stroke-width="1"/>
<text x="132.5" y="299.5" font-size="7.6" text-anchor="end" transform="rotate(-90 132.5 299.5)">0</text>
<line x1="140.04" y1="296" x2="140.04" y2="297.5" stroke="#8c8c8c" stroke-width="1"/>
<text x="142.74" y="299.5" font-size="7.6" text-anchor="end" transform="rotate(-90 142.74 299.5)">20</text>
<line x1="150.28" y1="296" x2="150.28" y2="297.5" stroke="#8c8c8c" stroke-width="1"/>
<text x="152.98" y="299.5" font-size="7.6" text-anchor="end" transform="rotate(-90 152.98 299.5)">40</text>
<line x1="160.52" y1="296" x2="160.52" y2="297.5" stroke="#8c8c8c" stroke-width="1"/>
<text x="163.22" y="299.5" font-size="7.6" text-anchor="end" transform="rotate(-90 163.22 299.5)">60</text>
<line x1="170.76" y1="296" x2="170.76" y2="297.5" stroke="#8c8c8c" stroke-width="1"/>
<text x="173.46" y="299.5" font-size="7.6" text-anchor="end" transform="rotate(-90 173.46 299.5)">80</text>
<line x1="181" y1="296" x2="181" y2="297.5" stroke="#8c8c8c" stroke-width="1"/>
<text x="183.7" y="299.5" font-size="7.6" text-anchor="end" transform="rotate(-90 183.7 299.5)">100</text>
<g>
<polyline points="129.8,293.87 131.08,293.87 132.36,293.87 133.64,293.87 134.92,293.87 136.2,293.87 137.48,287.46 138.76,273.59 140.04,244.78 141.32,215.98 142.6,207.44 143.88,205.31 145.16,205.84 146.44,208.51 147.72,212.77 149,217.58 150.28,222.38 151.56,226.65 152.84,230.91 154.12,234.65 155.4,238.38 156.68,242.12 157.96,245.85 159.24,249.05 160.52,251.72 161.8,253.59 163.08,255.45 164.36,256.79 165.64,258.12 166.92,259.19 168.2,260.26 169.48,261.16 170.76,262.07 172.04,262.82 173.32,263.56 174.6,264.15 175.88,264.74 177.16,265.27 178.44,265.8 179.72,266.22 181,266.64" fill="none" stroke="#000" stroke-width="0.75"/>
<polyline points="129.8,294.93 131.08,294.93 132.36,294.93 133.64,294.93 134.92,294.93 136.2,294.93 137.48,294.93 138.76,288.53 140.04,271.46 141.32,250.12 142.6,236.25 143.88,231.98 145.16,229.85 146.18,229.31 147.21,229.31 148.74,229.85 150.28,231.45 151.56,233.05 152.84,235.18 154.12,237.31 155.4,239.66 156.68,242.44 157.96,245.32 159.24,247.99 160.52,250.12 161.8,252.04 163.08,253.53 164.36,255.13 165.64,256.52 166.92,257.8 168.2,258.98 169.48,260.04 170.76,261.11 172.04,262.07 173.32,262.92 174.6,263.78 175.88,264.52 177.16,265.27 178.44,265.91 179.72,266.55 181,267.19" fill="none" stroke="#000" stroke-width="0.75"/>
<polyline points="129.8,291.2 131.08,291.2 132.36,291.2 133.64,291.2 134.92,291.2 136.2,291.2 137.48,280 138.76,270.39 140.04,250.12 141.32,226.65 142.6,206.37 143.88,198.37 145.16,196.77 146.44,197.84 147.72,203.17 149,209.57 150.28,215.98 151.56,221.31 152.84,226.65 154.12,230.91 155.4,235.71 156.68,239.98 157.96,243.72 159.24,246.92 160.52,249.05 161.8,250.65 163.08,252.25 164.36,253.43 165.64,254.6 166.92,255.56 168.2,256.52 169.48,257.43 170.76,258.33 172.04,259.03 173.32,259.72 174.6,260.36 175.88,261 177.16,261.64 178.44,262.28 179.72,262.81 181,263.33" fill="none" stroke="#000" stroke-width="0.6"/>
<circle cx="129.8" cy="293.87" r="1.4" fill="#000"/>
<circle cx="131.08" cy="293.87" r="1.4" fill="#000"/>
<circle cx="132.36" cy="293.87" r="1.4" fill="#000"/>
<circle cx="133.64" cy="293.87" r="1.4" fill="#000"/>
<circle cx="134.92" cy="293.87" r="1.4" fill="#000"/>
<circle cx="136.2" cy="293.87" r="1.4" fill="#000"/>
<circle cx="137.48" cy="287.46" r="1.4" fill="#000"/>
<circle cx="138.76" cy="273.59" r="1.4" fill="#000"/>
<circle cx="140.04" cy="244.78" r="1.4" fill="#000"/>
<circle cx="141.32" cy="215.98" r="1.4" fill="#000"/>
<circle cx="142.6" cy="207.44" r="1.4" fill="#000"/>
<circle cx="143.88" cy="205.31" r="1.4" fill="#000"/>
<circle cx="145.16" cy="205.84" r="1.4" fill="#000"/>
<circle cx="146.44" cy="208.51" r="1.4" fill="#000"/>
<circle cx="147.72" cy="212.77" r="1.4" fill="#000"/>
<circle cx="149" cy="217.58" r="1.4" fill="#000"/>
<circle cx="150.28" cy="222.38" r="1.4" fill="#000"/>
<circle cx="151.56" cy="226.65" r="1.4" fill="#000"/>
<circle cx="152.84" cy="230.91" r="1.4" fill="#000"/>
<circle cx="154.12" cy="234.65" r="1.4" fill="#000"/>
<circle cx="155.4" cy="238.38" r="1.4" fill="#000"/>
<circle cx="156.68" cy="242.12" r="1.4" fill="#000"/>
<circle cx="157.96" cy="245.85" r="1.4" fill="#000"/>
<circle cx="159.24" cy="249.05" r="1.4" fill="#000"/>
<circle cx="160.52" cy="251.72" r="1.4" fill="#000"/>
<circle cx="161.8" cy="253.59" r="1.4" fill="#000"/>
<circle cx="163.08" cy="255.45" r="1.4" fill="#000"/>
<circle cx="164.36" cy="256.79" r="1.4" fill="#000"/>
<circle cx="165.64" cy="258.12" r="1.4" fill="#000"/>
<circle cx="166.92" cy="259.19" r="1.4" fill="#000"/>
<circle cx="168.2" cy="260.26" r="1.4" fill="#000"/>
<circle cx="169.48" cy="261.16" r="1.4" fill="#000"/>
<circle cx="170.76" cy="262.07" r="1.4" fill="#000"/>
<circle cx="172.04" cy="262.82" r="1.4" fill="#000"/>
<circle cx="173.32" cy="263.56" r="1.4" fill="#000"/>
<circle cx="174.6" cy="264.15" r="1.4" fill="#000"/>
<circle cx="175.88" cy="264.74" r="1.4" fill="#000"/>
<circle cx="177.16" cy="265.27" r="1.4" fill="#000"/>
<circle cx="178.44" cy="265.8" r="1.4" fill="#000"/>
<circle cx="179.72" cy="266.22" r="1.4" fill="#000"/>
<circle cx="181" cy="266.64" r="1.4" fill="#000"/>
<rect x="128.55" y="293.68" width="2.5" height="2.5" fill="#000"/>
<rect x="129.83" y="293.68" width="2.5" height="2.5" fill="#000"/>
<rect x="131.11" y="293.68" width="2.5" height="2.5" fill="#000"/>
<rect x="132.39" y="293.68" width="2.5" height="2.5" fill="#000"/>
<rect x="133.67" y="293.68" width="2.5" height="2.5" fill="#000"/>
<rect x="134.95" y="293.68" width="2.5" height="2.5" fill="#000"/>
<rect x="136.23" y="293.68" width="2.5" height="2.5" fill="#000"/>
<rect x="137.51" y="287.28" width="2.5" height="2.5" fill="#000"/>
<rect x="138.79" y="270.21" width="2.5" height="2.5" fill="#000"/>
<rect x="140.07" y="248.87" width="2.5" height="2.5" fill="#000"/>
<rect x="141.35" y="235" width="2.5" height="2.5" fill="#000"/>
<rect x="142.63" y="230.73" width="2.5" height="2.5" fill="#000"/>
<rect x="143.91" y="228.6" width="2.5" height="2.5" fill="#000"/>
<rect x="144.93" y="228.06" width="2.5" height="2.5" fill="#000"/>
<rect x="145.96" y="228.06" width="2.5" height="2.5" fill="#000"/>
<rect x="147.49" y="228.6" width="2.5" height="2.5" fill="#000"/>
<rect x="149.03" y="230.2" width="2.5" height="2.5" fill="#000"/>
<rect x="150.31" y="231.8" width="2.5" height="2.5" fill="#000"/>
<rect x="151.59" y="233.93" width="2.5" height="2.5" fill="#000"/>
<rect x="152.87" y="236.06" width="2.5" height="2.5" fill="#000"/>
<rect x="154.15" y="238.41" width="2.5" height="2.5" fill="#000"/>
<rect x="155.43" y="241.19" width="2.5" height="2.5" fill="#000"/>
<rect x="156.71" y="244.07" width="2.5" height="2.5" fill="#000"/>
<rect x="157.99" y="246.74" width="2.5" height="2.5" fill="#000"/>
<rect x="159.27" y="248.87" width="2.5" height="2.5" fill="#000"/>
<rect x="160.55" y="250.79" width="2.5" height="2.5" fill="#000"/>
<rect x="161.83" y="252.28" width="2.5" height="2.5" fill="#000"/>
<rect x="163.11" y="253.88" width="2.5" height="2.5" fill="#000"/>
<rect x="164.39" y="255.27" width="2.5" height="2.5" fill="#000"/>
<rect x="165.67" y="256.55" width="2.5" height="2.5" fill="#000"/>
<rect x="166.95" y="257.73" width="2.5" height="2.5" fill="#000"/>
<rect x="168.23" y="258.79" width="2.5" height="2.5" fill="#000"/>
<rect x="169.51" y="259.86" width="2.5" height="2.5" fill="#000"/>
<rect x="170.79" y="260.82" width="2.5" height="2.5" fill="#000"/>
<rect x="172.07" y="261.67" width="2.5" height="2.5" fill="#000"/>
<rect x="173.35" y="262.53" width="2.5" height="2.5" fill="#000"/>
<rect x="174.63" y="263.27" width="2.5" height="2.5" fill="#000"/>
<rect x="175.91" y="264.02" width="2.5" height="2.5" fill="#000"/>
<rect x="177.19" y="264.66" width="2.5" height="2.5" fill="#000"/>
<rect x="178.47" y="265.3" width="2.5" height="2.5" fill="#000"/>
<rect x="179.75" y="265.94" width="2.5" height="2.5" fill="#000"/>
<circle cx="129.8" cy="291.2" r="1.45" fill="#fff" stroke="#111" stroke-width="0.55"/>
<circle cx="131.08" cy="291.2" r="1.45" fill="#fff" stroke="#111" stroke-width="0.55"/>
<circle cx="132.36" cy="291.2" r="1.45" fill="#fff" stroke="#111" stroke-width="0.55"/>
<circle cx="133.64" cy="291.2" r="1.45" fill="#fff" stroke="#111" stroke-width="0.55"/>
<circle cx="134.92" cy="291.2" r="1.45" fill="#fff" stroke="#111" stroke-width="0.55"/>
<circle cx="136.2" cy="291.2" r="1.45" fill="#fff" stroke="#111" stroke-width="0.55"/>
<circle cx="137.48" cy="280" r="1.45" fill="#fff" stroke="#111" stroke-width="0.55"/>
<circle cx="138.76" cy="270.39" r="1.45" fill="#fff" stroke="#111" stroke-width="0.55"/>
<circle cx="140.04" cy="250.12" r="1.45" fill="#fff" stroke="#111" stroke-width="0.55"/>
<circle cx="141.32" cy="226.65" r="1.45" fill="#fff" stroke="#111" stroke-width="0.55"/>
<circle cx="142.6" cy="206.37" r="1.45" fill="#fff" stroke="#111" stroke-width="0.55"/>
<circle cx="143.88" cy="198.37" r="1.45" fill="#fff" stroke="#111" stroke-width="0.55"/>
<circle cx="145.16" cy="196.77" r="1.45" fill="#fff" stroke="#111" stroke-width="0.55"/>
<circle cx="146.44" cy="197.84" r="1.45" fill="#fff" stroke="#111" stroke-width="0.55"/>
<circle cx="147.72" cy="203.17" r="1.45" fill="#fff" stroke="#111" stroke-width="0.55"/>
<circle cx="149" cy="209.57" r="1.45" fill="#fff" stroke="#111" stroke-width="0.55"/>
<circle cx="150.28" cy="215.98" r="1.45" fill="#fff" stroke="#111" stroke-width="0.55"/>
<circle cx="151.56" cy="221.31" r="1.45" fill="#fff" stroke="#111" stroke-width="0.55"/>
<circle cx="152.84" cy="226.65" r="1.45" fill="#fff" stroke="#111" stroke-width="0.55"/>
<circle cx="154.12" cy="230.91" r="1.45" fill="#fff" stroke="#111" stroke-width="0.55"/>
<circle cx="155.4" cy="235.71" r="1.45" fill="#fff" stroke="#111" stroke-width="0.55"/>
<circle cx="156.68" cy="239.98" r="1.45" fill="#fff" stroke="#111" stroke-width="0.55"/>
<circle cx="157.96" cy="243.72" r="1.45" fill="#fff" stroke="#111" stroke-width="0.55"/>
<circle cx="159.24" cy="246.92" r="1.45" fill="#fff" stroke="#111" stroke-width="0.55"/>
<circle cx="160.52" cy="249.05" r="1.45" fill="#fff" stroke="#111" stroke-width="0.55"/>
<circle cx="161.8" cy="250.65" r="1.45" fill="#fff" stroke="#111" stroke-width="0.55"/>
<circle cx="163.08" cy="252.25" r="1.45" fill="#fff" stroke="#111" stroke-width="0.55"/>
<circle cx="164.36" cy="253.43" r="1.45" fill="#fff" stroke="#111" stroke-width="0.55"/>
<circle cx="165.64" cy="254.6" r="1.45" fill="#fff" stroke="#111" stroke-width="0.55"/>
<circle cx="166.92" cy="255.56" r="1.45" fill="#fff" stroke="#111" stroke-width="0.55"/>
<circle cx="168.2" cy="256.52" r="1.45" fill="#fff" stroke="#111" stroke-width="0.55"/>
<circle cx="169.48" cy="257.43" r="1.45" fill="#fff" stroke="#111" stroke-width="0.55"/>
<circle cx="170.76" cy="258.33" r="1.45" fill="#fff" stroke="#111" stroke-width="0.55"/>
<circle cx="172.04" cy="259.03" r="1.45" fill="#fff" stroke="#111" stroke-width="0.55"/>
<circle cx="173.32" cy="259.72" r="1.45" fill="#fff" stroke="#111" stroke-width="0.55"/>
<circle cx="174.6" cy="260.36" r="1.45" fill="#fff" stroke="#111" stroke-width="0.55"/>
<circle cx="175.88" cy="261" r="1.45" fill="#fff" stroke="#111" stroke-width="0.55"/>
<circle cx="177.16" cy="261.64" r="1.45" fill="#fff" stroke="#111" stroke-width="0.55"/>
<circle cx="178.44" cy="262.28" r="1.45" fill="#fff" stroke="#111" stroke-width="0.55"/>
<circle cx="179.72" cy="262.81" r="1.45" fill="#fff" stroke="#111" stroke-width="0.55"/>
<circle cx="181" cy="263.33" r="1.45" fill="#fff" stroke="#111" stroke-width="0.55"/>
</g>
<rect x="129.8" y="189.3" width="51.2" height="106.7" fill="none" stroke="#8c8c8c" stroke-width="1"/>
<text x="99.4" y="244.15" font-size="10.3" text-anchor="middle" transform="rotate(-90 99.4 244.15)" stroke-width="0.12">Calcium mobilization</text>
<text x="113.3" y="242.15" font-size="7.9" text-anchor="middle" transform="rotate(-90 113.3 242.15)">(relative fluorescence x 10<tspan font-size="5.93" dy="-3.6">-4</tspan><tspan dy="3.6">)</tspan></text>
<text x="155.4" y="321.1" font-size="9.9" text-anchor="middle" stroke-width="0.12">Time (sec)</text>
<line x1="228.1" y1="296" x2="230.3" y2="296" stroke="#8c8c8c" stroke-width="1"/>
<text x="225.3" y="297.9" font-size="7.6" text-anchor="end">0</text>
<line x1="228.1" y1="274.66" x2="230.3" y2="274.66" stroke="#8c8c8c" stroke-width="1"/>
<text x="225.3" y="276.56" font-size="7.6" text-anchor="end">2</text>
<line x1="228.1" y1="253.32" x2="230.3" y2="253.32" stroke="#8c8c8c" stroke-width="1"/>
<text x="225.3" y="255.22" font-size="7.6" text-anchor="end">4</text>
<line x1="228.1" y1="231.98" x2="230.3" y2="231.98" stroke="#8c8c8c" stroke-width="1"/>
<text x="225.3" y="233.88" font-size="7.6" text-anchor="end">6</text>
<line x1="228.1" y1="210.64" x2="230.3" y2="210.64" stroke="#8c8c8c" stroke-width="1"/>
<text x="225.3" y="212.54" font-size="7.6" text-anchor="end">8</text>
<line x1="228.1" y1="189.3" x2="230.3" y2="189.3" stroke="#8c8c8c" stroke-width="1"/>
<text x="225.3" y="191.2" font-size="7.6" text-anchor="end">10</text>
<line x1="230.3" y1="296" x2="230.3" y2="297.5" stroke="#8c8c8c" stroke-width="1"/>
<text x="230.3" y="307" font-size="7.6" text-anchor="middle">0</text>
<line x1="240.52" y1="296" x2="240.52" y2="297.5" stroke="#8c8c8c" stroke-width="1"/>
<text x="240.52" y="307" font-size="7.6" text-anchor="middle">4</text>
<line x1="250.74" y1="296" x2="250.74" y2="297.5" stroke="#8c8c8c" stroke-width="1"/>
<text x="250.74" y="307" font-size="7.6" text-anchor="middle">8</text>
<line x1="260.96" y1="296" x2="260.96" y2="297.5" stroke="#8c8c8c" stroke-width="1"/>
<text x="260.96" y="307" font-size="7.6" text-anchor="middle">12</text>
<line x1="271.18" y1="296" x2="271.18" y2="297.5" stroke="#8c8c8c" stroke-width="1"/>
<text x="271.18" y="307" font-size="7.6" text-anchor="middle">16</text>
<line x1="281.4" y1="296" x2="281.4" y2="297.5" stroke="#8c8c8c" stroke-width="1"/>
<text x="281.4" y="307" font-size="7.6" text-anchor="middle">20</text>
<g>
<polyline points="230.3,296 231.32,295.79 232.34,294.72 233.37,280.21 234.39,262.84 235.41,244.68 236.43,228.89 237.97,217.04 238.99,225.52 240.01,232.77 241.03,238.99 242.05,244.32 243.08,248.89 244.1,252.82 245.12,256.2 246.14,259.11 247.16,261.62 248.19,263.79 249.21,265.68 250.23,267.32 251.25,268.75 252.27,269.99 253.3,271.09 254.32,272.06 255.34,272.91 256.36,273.67 257.38,274.35 258.41,274.97 259.43,275.52 260.45,276.02 261.47,276.49 262.49,276.91 263.51,277.31 264.54,277.67 265.56,278.02 266.58,278.35 267.6,278.66 268.62,278.96 269.65,279.24 270.67,279.52 271.69,279.78 272.71,280.04 273.74,280.29 274.76,280.54 275.78,280.78 276.8,281.02 277.82,281.26 278.84,281.49 279.87,281.72 280.89,281.95" fill="none" stroke="#000" stroke-width="0.75"/>
<polyline points="230.3,296 231.32,295.79 232.34,294.72 233.37,281.7 234.39,265.97 235.41,249.53 236.43,235.23 237.97,224.51 238.99,232.35 240.01,239.02 241.03,244.69 242.05,249.53 243.08,253.65 244.1,257.17 245.12,260.18 246.14,262.75 247.16,264.97 248.19,266.87 249.21,268.51 250.23,269.93 251.25,271.16 252.27,272.23 253.3,273.17 254.32,273.99 255.34,274.72 256.36,275.37 257.38,275.94 258.41,276.46 259.43,276.93 260.45,277.36 261.47,277.75 262.49,278.11 263.51,278.45 264.54,278.77 265.56,279.06 266.58,279.34 267.6,279.61 268.62,279.87 269.65,280.12 270.67,280.36 271.69,280.59 272.71,280.82 273.74,281.04 274.76,281.26 275.78,281.48 276.8,281.69 277.82,281.9 278.84,282.11 279.87,282.31 280.89,282.52" fill="none" stroke="#000" stroke-width="0.75"/>
<polyline points="230.3,296 231.32,295.79 232.34,294.72 233.37,278.93 234.39,260.15 235.41,240.52 236.43,223.44 237.97,210.64 238.99,218.81 240.01,225.97 241.03,232.26 242.05,237.78 243.08,242.62 244.1,246.89 245.12,250.64 246.14,253.95 247.16,256.86 248.19,259.44 249.21,261.72 250.23,263.74 251.25,265.53 252.27,267.13 253.3,268.55 254.32,269.83 255.34,270.97 256.36,271.99 257.38,272.92 258.41,273.76 259.43,274.52 260.45,275.21 261.47,275.85 262.49,276.44 263.51,276.98 264.54,277.48 265.56,277.95 266.58,278.39 267.6,278.8 268.62,279.19 269.65,279.56 270.67,279.91 271.69,280.25 272.71,280.58 273.74,280.89 274.76,281.2 275.78,281.49 276.8,281.78 277.82,282.06 278.84,282.33 279.87,282.6 280.89,282.87" fill="none" stroke="#000" stroke-width="0.6"/>
<path d="M230.3 294.5L231.7 297.1L228.9 297.1Z" fill="#000"/>
<path d="M231.32 294.29L232.72 296.89L229.92 296.89Z" fill="#000"/>
<path d="M232.34 293.22L233.74 295.82L230.94 295.82Z" fill="#000"/>
<path d="M233.37 278.71L234.77 281.31L231.97 281.31Z" fill="#000"/>
<path d="M234.39 261.34L235.79 263.94L232.99 263.94Z" fill="#000"/>
<path d="M235.41 243.18L236.81 245.78L234.01 245.78Z" fill="#000"/>
<path d="M236.43 227.39L237.83 229.99L235.03 229.99Z" fill="#000"/>
<path d="M237.97 215.54L239.37 218.14L236.56 218.14Z" fill="#000"/>
<path d="M238.99 224.02L240.39 226.62L237.59 226.62Z" fill="#000"/>
<path d="M240.01 231.27L241.41 233.87L238.61 233.87Z" fill="#000"/>
<path d="M241.03 237.49L242.43 240.09L239.63 240.09Z" fill="#000"/>
<path d="M242.05 242.82L243.45 245.42L240.65 245.42Z" fill="#000"/>
<path d="M243.08 247.39L244.48 249.99L241.68 249.99Z" fill="#000"/>
<path d="M244.1 251.32L245.5 253.92L242.7 253.92Z" fill="#000"/>
<path d="M245.12 254.7L246.52 257.3L243.72 257.3Z" fill="#000"/>
<path d="M246.14 257.61L247.54 260.21L244.74 260.21Z" fill="#000"/>
<path d="M247.16 260.12L248.56 262.72L245.76 262.72Z" fill="#000"/>
<path d="M248.19 262.29L249.59 264.89L246.78 264.89Z" fill="#000"/>
<path d="M249.21 264.18L250.61 266.78L247.81 266.78Z" fill="#000"/>
<path d="M250.23 265.82L251.63 268.42L248.83 268.42Z" fill="#000"/>
<path d="M251.25 267.25L252.65 269.85L249.85 269.85Z" fill="#000"/>
<path d="M252.27 268.49L253.67 271.09L250.87 271.09Z" fill="#000"/>
<path d="M253.3 269.59L254.7 272.19L251.9 272.19Z" fill="#000"/>
<path d="M254.32 270.56L255.72 273.16L252.92 273.16Z" fill="#000"/>
<path d="M255.34 271.41L256.74 274.01L253.94 274.01Z" fill="#000"/>
<path d="M256.36 272.17L257.76 274.77L254.96 274.77Z" fill="#000"/>
<path d="M257.38 272.85L258.78 275.45L255.98 275.45Z" fill="#000"/>
<path d="M258.41 273.47L259.81 276.07L257.01 276.07Z" fill="#000"/>
<path d="M259.43 274.02L260.83 276.62L258.03 276.62Z" fill="#000"/>
<path d="M260.45 274.52L261.85 277.12L259.05 277.12Z" fill="#000"/>
<path d="M261.47 274.99L262.87 277.59L260.07 277.59Z" fill="#000"/>
<path d="M262.49 275.41L263.89 278.01L261.09 278.01Z" fill="#000"/>
<path d="M263.51 275.81L264.91 278.41L262.12 278.41Z" fill="#000"/>
<path d="M264.54 276.17L265.94 278.77L263.14 278.77Z" fill="#000"/>
<path d="M265.56 276.52L266.96 279.12L264.16 279.12Z" fill="#000"/>
<path d="M266.58 276.85L267.98 279.45L265.18 279.45Z" fill="#000"/>
<path d="M267.6 277.16L269 279.76L266.2 279.76Z" fill="#000"/>
<path d="M268.62 277.46L270.02 280.06L267.23 280.06Z" fill="#000"/>
<path d="M269.65 277.74L271.05 280.34L268.25 280.34Z" fill="#000"/>
<path d="M270.67 278.02L272.07 280.62L269.27 280.62Z" fill="#000"/>
<path d="M271.69 278.28L273.09 280.88L270.29 280.88Z" fill="#000"/>
<path d="M272.71 278.54L274.11 281.14L271.31 281.14Z" fill="#000"/>
<path d="M273.74 278.79L275.13 281.39L272.34 281.39Z" fill="#000"/>
<path d="M274.76 279.04L276.16 281.64L273.36 281.64Z" fill="#000"/>
<path d="M275.78 279.28L277.18 281.88L274.38 281.88Z" fill="#000"/>
<path d="M276.8 279.52L278.2 282.12L275.4 282.12Z" fill="#000"/>
<path d="M277.82 279.76L279.22 282.36L276.42 282.36Z" fill="#000"/>
<path d="M278.84 279.99L280.24 282.59L277.44 282.59Z" fill="#000"/>
<path d="M279.87 280.22L281.27 282.82L278.47 282.82Z" fill="#000"/>
<path d="M280.89 280.45L282.29 283.05L279.49 283.05Z" fill="#000"/>
<rect x="229.05" y="294.75" width="2.5" height="2.5" fill="#000"/>
<rect x="230.07" y="294.54" width="2.5" height="2.5" fill="#000"/>
<rect x="231.09" y="293.47" width="2.5" height="2.5" fill="#000"/>
<rect x="232.12" y="280.45" width="2.5" height="2.5" fill="#000"/>
<rect x="233.14" y="264.72" width="2.5" height="2.5" fill="#000"/>
<rect x="234.16" y="248.28" width="2.5" height="2.5" fill="#000"/>
<rect x="235.18" y="233.98" width="2.5" height="2.5" fill="#000"/>
<rect x="236.72" y="223.26" width="2.5" height="2.5" fill="#000"/>
<rect x="237.74" y="231.1" width="2.5" height="2.5" fill="#000"/>
<rect x="238.76" y="237.77" width="2.5" height="2.5" fill="#000"/>
<rect x="239.78" y="243.44" width="2.5" height="2.5" fill="#000"/>
<rect x="240.8" y="248.28" width="2.5" height="2.5" fill="#000"/>
<rect x="241.83" y="252.4" width="2.5" height="2.5" fill="#000"/>
<rect x="242.85" y="255.92" width="2.5" height="2.5" fill="#000"/>
<rect x="243.87" y="258.93" width="2.5" height="2.5" fill="#000"/>
<rect x="244.89" y="261.5" width="2.5" height="2.5" fill="#000"/>
<rect x="245.91" y="263.72" width="2.5" height="2.5" fill="#000"/>
<rect x="246.94" y="265.62" width="2.5" height="2.5" fill="#000"/>
<rect x="247.96" y="267.26" width="2.5" height="2.5" fill="#000"/>
<rect x="248.98" y="268.68" width="2.5" height="2.5" fill="#000"/>
<rect x="250" y="269.91" width="2.5" height="2.5" fill="#000"/>
<rect x="251.02" y="270.98" width="2.5" height="2.5" fill="#000"/>
<rect x="252.05" y="271.92" width="2.5" height="2.5" fill="#000"/>
<rect x="253.07" y="272.74" width="2.5" height="2.5" fill="#000"/>
<rect x="254.09" y="273.47" width="2.5" height="2.5" fill="#000"/>
<rect x="255.11" y="274.12" width="2.5" height="2.5" fill="#000"/>
<rect x="256.13" y="274.69" width="2.5" height="2.5" fill="#000"/>
<rect x="257.16" y="275.21" width="2.5" height="2.5" fill="#000"/>
<rect x="258.18" y="275.68" width="2.5" height="2.5" fill="#000"/>
<rect x="259.2" y="276.11" width="2.5" height="2.5" fill="#000"/>
<rect x="260.22" y="276.5" width="2.5" height="2.5" fill="#000"/>
<rect x="261.24" y="276.86" width="2.5" height="2.5" fill="#000"/>
<rect x="262.26" y="277.2" width="2.5" height="2.5" fill="#000"/>
<rect x="263.29" y="277.52" width="2.5" height="2.5" fill="#000"/>
<rect x="264.31" y="277.81" width="2.5" height="2.5" fill="#000"/>
<rect x="265.33" y="278.09" width="2.5" height="2.5" fill="#000"/>
<rect x="266.35" y="278.36" width="2.5" height="2.5" fill="#000"/>
<rect x="267.38" y="278.62" width="2.5" height="2.5" fill="#000"/>
<rect x="268.4" y="278.87" width="2.5" height="2.5" fill="#000"/>
<rect x="269.42" y="279.11" width="2.5" height="2.5" fill="#000"/>
<rect x="270.44" y="279.34" width="2.5" height="2.5" fill="#000"/>
<rect x="271.46" y="279.57" width="2.5" height="2.5" fill="#000"/>
<rect x="272.49" y="279.79" width="2.5" height="2.5" fill="#000"/>
<rect x="273.51" y="280.01" width="2.5" height="2.5" fill="#000"/>
<rect x="274.53" y="280.23" width="2.5" height="2.5" fill="#000"/>
<rect x="275.55" y="280.44" width="2.5" height="2.5" fill="#000"/>
<rect x="276.57" y="280.65" width="2.5" height="2.5" fill="#000"/>
<rect x="277.59" y="280.86" width="2.5" height="2.5" fill="#000"/>
<rect x="278.62" y="281.06" width="2.5" height="2.5" fill="#000"/>
<rect x="279.64" y="281.27" width="2.5" height="2.5" fill="#000"/>
<circle cx="230.3" cy="296" r="1.45" fill="#fff" stroke="#111" stroke-width="0.55"/>
<circle cx="231.32" cy="295.79" r="1.45" fill="#fff" stroke="#111" stroke-width="0.55"/>
<circle cx="232.34" cy="294.72" r="1.45" fill="#fff" stroke="#111" stroke-width="0.55"/>
<circle cx="233.37" cy="278.93" r="1.45" fill="#fff" stroke="#111" stroke-width="0.55"/>
<circle cx="234.39" cy="260.15" r="1.45" fill="#fff" stroke="#111" stroke-width="0.55"/>
<circle cx="235.41" cy="240.52" r="1.45" fill="#fff" stroke="#111" stroke-width="0.55"/>
<circle cx="236.43" cy="223.44" r="1.45" fill="#fff" stroke="#111" stroke-width="0.55"/>
<circle cx="237.97" cy="210.64" r="1.45" fill="#fff" stroke="#111" stroke-width="0.55"/>
<circle cx="238.99" cy="218.81" r="1.45" fill="#fff" stroke="#111" stroke-width="0.55"/>
<circle cx="240.01" cy="225.97" r="1.45" fill="#fff" stroke="#111" stroke-width="0.55"/>
<circle cx="241.03" cy="232.26" r="1.45" fill="#fff" stroke="#111" stroke-width="0.55"/>
<circle cx="242.05" cy="237.78" r="1.45" fill="#fff" stroke="#111" stroke-width="0.55"/>
<circle cx="243.08" cy="242.62" r="1.45" fill="#fff" stroke="#111" stroke-width="0.55"/>
<circle cx="244.1" cy="246.89" r="1.45" fill="#fff" stroke="#111" stroke-width="0.55"/>
<circle cx="245.12" cy="250.64" r="1.45" fill="#fff" stroke="#111" stroke-width="0.55"/>
<circle cx="246.14" cy="253.95" r="1.45" fill="#fff" stroke="#111" stroke-width="0.55"/>
<circle cx="247.16" cy="256.86" r="1.45" fill="#fff" stroke="#111" stroke-width="0.55"/>
<circle cx="248.19" cy="259.44" r="1.45" fill="#fff" stroke="#111" stroke-width="0.55"/>
<circle cx="249.21" cy="261.72" r="1.45" fill="#fff" stroke="#111" stroke-width="0.55"/>
<circle cx="250.23" cy="263.74" r="1.45" fill="#fff" stroke="#111" stroke-width="0.55"/>
<circle cx="251.25" cy="265.53" r="1.45" fill="#fff" stroke="#111" stroke-width="0.55"/>
<circle cx="252.27" cy="267.13" r="1.45" fill="#fff" stroke="#111" stroke-width="0.55"/>
<circle cx="253.3" cy="268.55" r="1.45" fill="#fff" stroke="#111" stroke-width="0.55"/>
<circle cx="254.32" cy="269.83" r="1.45" fill="#fff" stroke="#111" stroke-width="0.55"/>
<circle cx="255.34" cy="270.97" r="1.45" fill="#fff" stroke="#111" stroke-width="0.55"/>
<circle cx="256.36" cy="271.99" r="1.45" fill="#fff" stroke="#111" stroke-width="0.55"/>
<circle cx="257.38" cy="272.92" r="1.45" fill="#fff" stroke="#111" stroke-width="0.55"/>
<circle cx="258.41" cy="273.76" r="1.45" fill="#fff" stroke="#111" stroke-width="0.55"/>
<circle cx="259.43" cy="274.52" r="1.45" fill="#fff" stroke="#111" stroke-width="0.55"/>
<circle cx="260.45" cy="275.21" r="1.45" fill="#fff" stroke="#111" stroke-width="0.55"/>
<circle cx="261.47" cy="275.85" r="1.45" fill="#fff" stroke="#111" stroke-width="0.55"/>
<circle cx="262.49" cy="276.44" r="1.45" fill="#fff" stroke="#111" stroke-width="0.55"/>
<circle cx="263.51" cy="276.98" r="1.45" fill="#fff" stroke="#111" stroke-width="0.55"/>
<circle cx="264.54" cy="277.48" r="1.45" fill="#fff" stroke="#111" stroke-width="0.55"/>
<circle cx="265.56" cy="277.95" r="1.45" fill="#fff" stroke="#111" stroke-width="0.55"/>
<circle cx="266.58" cy="278.39" r="1.45" fill="#fff" stroke="#111" stroke-width="0.55"/>
<circle cx="267.6" cy="278.8" r="1.45" fill="#fff" stroke="#111" stroke-width="0.55"/>
<circle cx="268.62" cy="279.19" r="1.45" fill="#fff" stroke="#111" stroke-width="0.55"/>
<circle cx="269.65" cy="279.56" r="1.45" fill="#fff" stroke="#111" stroke-width="0.55"/>
<circle cx="270.67" cy="279.91" r="1.45" fill="#fff" stroke="#111" stroke-width="0.55"/>
<circle cx="271.69" cy="280.25" r="1.45" fill="#fff" stroke="#111" stroke-width="0.55"/>
<circle cx="272.71" cy="280.58" r="1.45" fill="#fff" stroke="#111" stroke-width="0.55"/>
<circle cx="273.74" cy="280.89" r="1.45" fill="#fff" stroke="#111" stroke-width="0.55"/>
<circle cx="274.76" cy="281.2" r="1.45" fill="#fff" stroke="#111" stroke-width="0.55"/>
<circle cx="275.78" cy="281.49" r="1.45" fill="#fff" stroke="#111" stroke-width="0.55"/>
<circle cx="276.8" cy="281.78" r="1.45" fill="#fff" stroke="#111" stroke-width="0.55"/>
<circle cx="277.82" cy="282.06" r="1.45" fill="#fff" stroke="#111" stroke-width="0.55"/>
<circle cx="278.84" cy="282.33" r="1.45" fill="#fff" stroke="#111" stroke-width="0.55"/>
<circle cx="279.87" cy="282.6" r="1.45" fill="#fff" stroke="#111" stroke-width="0.55"/>
<circle cx="280.89" cy="282.87" r="1.45" fill="#fff" stroke="#111" stroke-width="0.55"/>
</g>
<rect x="230.3" y="189.3" width="51.1" height="106.7" fill="none" stroke="#8c8c8c" stroke-width="1"/>
<text x="200.2" y="241.65" font-size="9.7" text-anchor="middle" transform="rotate(-90 200.2 241.65)" stroke-width="0.12">Superoxide production</text>
<text x="213.6" y="238.45" font-size="8.7" text-anchor="middle" transform="rotate(-90 213.6 238.45)">(relative light unit x 10<tspan font-size="6.52" dy="-3.6">-6</tspan><tspan dy="3.6">)</tspan></text>
<text x="255.85" y="321.1" font-size="9.9" text-anchor="middle" stroke-width="0.12">Time (min)</text>
<line x1="127.6" y1="472.6" x2="129.8" y2="472.6" stroke="#8c8c8c" stroke-width="1"/>
<text x="124.8" y="474.5" font-size="7.6" text-anchor="end">0</text>
<line x1="127.6" y1="457.46" x2="129.8" y2="457.46" stroke="#8c8c8c" stroke-width="1"/>
<text x="124.8" y="459.36" font-size="7.6" text-anchor="end">5</text>
<line x1="127.6" y1="442.31" x2="129.8" y2="442.31" stroke="#8c8c8c" stroke-width="1"/>
<text x="124.8" y="444.21" font-size="7.6" text-anchor="end">10</text>
<line x1="127.6" y1="427.17" x2="129.8" y2="427.17" stroke="#8c8c8c" stroke-width="1"/>
<text x="124.8" y="429.07" font-size="7.6" text-anchor="end">15</text>
<line x1="127.6" y1="412.03" x2="129.8" y2="412.03" stroke="#8c8c8c" stroke-width="1"/>
<text x="124.8" y="413.93" font-size="7.6" text-anchor="end">20</text>
<line x1="127.6" y1="396.89" x2="129.8" y2="396.89" stroke="#8c8c8c" stroke-width="1"/>
<text x="124.8" y="398.79" font-size="7.6" text-anchor="end">25</text>
<line x1="127.6" y1="381.74" x2="129.8" y2="381.74" stroke="#8c8c8c" stroke-width="1"/>
<text x="124.8" y="383.64" font-size="7.6" text-anchor="end">30</text>
<line x1="127.6" y1="366.6" x2="129.8" y2="366.6" stroke="#8c8c8c" stroke-width="1"/>
<text x="124.8" y="368.5" font-size="7.6" text-anchor="end">35</text>
<line x1="129.8" y1="472.6" x2="129.8" y2="474.1" stroke="#8c8c8c" stroke-width="1"/>
<text x="129.8" y="484.8" font-size="7.6" text-anchor="middle">0</text>
<line x1="140.04" y1="472.6" x2="140.04" y2="474.1" stroke="#8c8c8c" stroke-width="1"/>
<text x="140.04" y="484.8" font-size="7.6" text-anchor="middle">20</text>
<line x1="150.28" y1="472.6" x2="150.28" y2="474.1" stroke="#8c8c8c" stroke-width="1"/>
<text x="150.28" y="484.8" font-size="7.6" text-anchor="middle">40</text>
<line x1="160.52" y1="472.6" x2="160.52" y2="474.1" stroke="#8c8c8c" stroke-width="1"/>
<text x="160.52" y="484.8" font-size="7.6" text-anchor="middle">60</text>
<line x1="170.76" y1="472.6" x2="170.76" y2="474.1" stroke="#8c8c8c" stroke-width="1"/>
<text x="170.76" y="484.8" font-size="7.6" text-anchor="middle">80</text>
<line x1="181" y1="472.6" x2="181" y2="474.1" stroke="#8c8c8c" stroke-width="1"/>
<text x="181" y="484.8" font-size="7.6" text-anchor="middle">100</text>
<g>
<polyline points="129.8,455.64 132.46,456.85 135.48,454.58 137.84,442.92 140.19,432.32 142.5,415.06 144.85,399.91 147.21,385.68 149.51,376.29 151.82,371.14 154.12,374.47 156.36,377.86 158.6,381.24 160.84,384.62 163.08,388 165.32,391.38 167.56,394.77 169.8,398.15 172.04,401.53 174.28,404.91 176.52,408.29 178.76,411.68 181,415.06" fill="none" stroke="#000" stroke-width="0.6"/>
<polyline points="129.8,461.39 131.85,461.39 133.9,461.39 135.94,461.39 137.99,461.39 140.19,449.89 141.83,434.74 143.62,418.39 145.57,400.82 146.49,388.1 148.39,384.47 150.02,385.68 151.82,391.43 153.1,395.37 154.22,399.61 155.4,403.55 156.53,407.79 157.7,414.75 158.98,416.57 160.01,418.09 161.8,421.11 163.59,424.14 165.38,427.17 167.07,429.9 168.2,429.59 169.43,428.69 170.76,431.11 171.78,433.53 173.58,435.65 175.27,438.07 177.16,441.41 179.21,445.34 181,443.83" fill="none" stroke="#000" stroke-width="0.75"/>
<polyline points="129.8,461.7 131.85,461.7 133.9,461.7 135.94,461.7 137.99,461.7 139.53,461.7 141.32,453.22 143.21,436.86 144.85,418.39 146.49,403.25 148.39,397.49 150.28,396.28 152.58,398.7 154.89,403.25 156.68,406.58 158.42,409.2 160.16,411.82 161.9,414.45 163.64,417.07 165.38,419.69 167.12,422.32 168.87,424.94 170.61,427.56 172.35,430.18 174.09,432.81 175.83,435.43 177.57,438.05 179.31,440.68" fill="none" stroke="#000" stroke-width="0.75"/>
<circle cx="129.8" cy="455.64" r="1.45" fill="#fff" stroke="#111" stroke-width="0.55"/>
<circle cx="132.46" cy="456.85" r="1.45" fill="#fff" stroke="#111" stroke-width="0.55"/>
<circle cx="135.48" cy="454.58" r="1.45" fill="#fff" stroke="#111" stroke-width="0.55"/>
<circle cx="137.84" cy="442.92" r="1.45" fill="#fff" stroke="#111" stroke-width="0.55"/>
<circle cx="140.19" cy="432.32" r="1.45" fill="#fff" stroke="#111" stroke-width="0.55"/>
<circle cx="142.5" cy="415.06" r="1.45" fill="#fff" stroke="#111" stroke-width="0.55"/>
<circle cx="144.85" cy="399.91" r="1.45" fill="#fff" stroke="#111" stroke-width="0.55"/>
<circle cx="147.21" cy="385.68" r="1.45" fill="#fff" stroke="#111" stroke-width="0.55"/>
<circle cx="149.51" cy="376.29" r="1.45" fill="#fff" stroke="#111" stroke-width="0.55"/>
<circle cx="151.82" cy="371.14" r="1.45" fill="#fff" stroke="#111" stroke-width="0.55"/>
<circle cx="154.12" cy="374.47" r="1.45" fill="#fff" stroke="#111" stroke-width="0.55"/>
<circle cx="156.36" cy="377.86" r="1.45" fill="#fff" stroke="#111" stroke-width="0.55"/>
<circle cx="158.6" cy="381.24" r="1.45" fill="#fff" stroke="#111" stroke-width="0.55"/>
<circle cx="160.84" cy="384.62" r="1.45" fill="#fff" stroke="#111" stroke-width="0.55"/>
<circle cx="163.08" cy="388" r="1.45" fill="#fff" stroke="#111" stroke-width="0.55"/>
<circle cx="165.32" cy="391.38" r="1.45" fill="#fff" stroke="#111" stroke-width="0.55"/>
<circle cx="167.56" cy="394.77" r="1.45" fill="#fff" stroke="#111" stroke-width="0.55"/>
<circle cx="169.8" cy="398.15" r="1.45" fill="#fff" stroke="#111" stroke-width="0.55"/>
<circle cx="172.04" cy="401.53" r="1.45" fill="#fff" stroke="#111" stroke-width="0.55"/>
<circle cx="174.28" cy="404.91" r="1.45" fill="#fff" stroke="#111" stroke-width="0.55"/>
<circle cx="176.52" cy="408.29" r="1.45" fill="#fff" stroke="#111" stroke-width="0.55"/>
<circle cx="178.76" cy="411.68" r="1.45" fill="#fff" stroke="#111" stroke-width="0.55"/>
<circle cx="181" cy="415.06" r="1.45" fill="#fff" stroke="#111" stroke-width="0.55"/>
<circle cx="129.8" cy="461.39" r="1.4" fill="#000"/>
<circle cx="131.85" cy="461.39" r="1.4" fill="#000"/>
<circle cx="133.9" cy="461.39" r="1.4" fill="#000"/>
<circle cx="135.94" cy="461.39" r="1.4" fill="#000"/>
<circle cx="137.99" cy="461.39" r="1.4" fill="#000"/>
<circle cx="140.19" cy="449.89" r="1.4" fill="#000"/>
<circle cx="141.83" cy="434.74" r="1.4" fill="#000"/>
<circle cx="143.62" cy="418.39" r="1.4" fill="#000"/>
<circle cx="145.57" cy="400.82" r="1.4" fill="#000"/>
<circle cx="146.49" cy="388.1" r="1.4" fill="#000"/>
<circle cx="148.39" cy="384.47" r="1.4" fill="#000"/>
<circle cx="150.02" cy="385.68" r="1.4" fill="#000"/>
<circle cx="151.82" cy="391.43" r="1.4" fill="#000"/>
<circle cx="153.1" cy="395.37" r="1.4" fill="#000"/>
<circle cx="154.22" cy="399.61" r="1.4" fill="#000"/>
<circle cx="155.4" cy="403.55" r="1.4" fill="#000"/>
<circle cx="156.53" cy="407.79" r="1.4" fill="#000"/>
<circle cx="157.7" cy="414.75" r="1.4" fill="#000"/>
<circle cx="158.98" cy="416.57" r="1.4" fill="#000"/>
<circle cx="160.01" cy="418.09" r="1.4" fill="#000"/>
<circle cx="161.8" cy="421.11" r="1.4" fill="#000"/>
<circle cx="163.59" cy="424.14" r="1.4" fill="#000"/>
<circle cx="165.38" cy="427.17" r="1.4" fill="#000"/>
<circle cx="167.07" cy="429.9" r="1.4" fill="#000"/>
<circle cx="168.2" cy="429.59" r="1.4" fill="#000"/>
<circle cx="169.43" cy="428.69" r="1.4" fill="#000"/>
<circle cx="170.76" cy="431.11" r="1.4" fill="#000"/>
<circle cx="171.78" cy="433.53" r="1.4" fill="#000"/>
<circle cx="173.58" cy="435.65" r="1.4" fill="#000"/>
<circle cx="175.27" cy="438.07" r="1.4" fill="#000"/>
<circle cx="177.16" cy="441.41" r="1.4" fill="#000"/>
<circle cx="179.21" cy="445.34" r="1.4" fill="#000"/>
<circle cx="181" cy="443.83" r="1.4" fill="#000"/>
<rect x="128.55" y="460.45" width="2.5" height="2.5" fill="#000"/>
<rect x="130.6" y="460.45" width="2.5" height="2.5" fill="#000"/>
<rect x="132.65" y="460.45" width="2.5" height="2.5" fill="#000"/>
<rect x="134.69" y="460.45" width="2.5" height="2.5" fill="#000"/>
<rect x="136.74" y="460.45" width="2.5" height="2.5" fill="#000"/>
<rect x="138.28" y="460.45" width="2.5" height="2.5" fill="#000"/>
<rect x="140.07" y="451.97" width="2.5" height="2.5" fill="#000"/>
<rect x="141.96" y="435.61" width="2.5" height="2.5" fill="#000"/>
<rect x="143.6" y="417.14" width="2.5" height="2.5" fill="#000"/>
<rect x="145.24" y="402" width="2.5" height="2.5" fill="#000"/>
<rect x="147.14" y="396.24" width="2.5" height="2.5" fill="#000"/>
<rect x="149.03" y="395.03" width="2.5" height="2.5" fill="#000"/>
<rect x="151.33" y="397.45" width="2.5" height="2.5" fill="#000"/>
<rect x="153.64" y="402" width="2.5" height="2.5" fill="#000"/>
<rect x="155.43" y="405.33" width="2.5" height="2.5" fill="#000"/>
<rect x="157.17" y="407.95" width="2.5" height="2.5" fill="#000"/>
<rect x="158.91" y="410.57" width="2.5" height="2.5" fill="#000"/>
<rect x="160.65" y="413.2" width="2.5" height="2.5" fill="#000"/>
<rect x="162.39" y="415.82" width="2.5" height="2.5" fill="#000"/>
<rect x="164.13" y="418.44" width="2.5" height="2.5" fill="#000"/>
<rect x="165.87" y="421.07" width="2.5" height="2.5" fill="#000"/>
<rect x="167.62" y="423.69" width="2.5" height="2.5" fill="#000"/>
<rect x="169.36" y="426.31" width="2.5" height="2.5" fill="#000"/>
<rect x="171.1" y="428.93" width="2.5" height="2.5" fill="#000"/>
<rect x="172.84" y="431.56" width="2.5" height="2.5" fill="#000"/>
<rect x="174.58" y="434.18" width="2.5" height="2.5" fill="#000"/>
<rect x="176.32" y="436.8" width="2.5" height="2.5" fill="#000"/>
<rect x="178.06" y="439.43" width="2.5" height="2.5" fill="#000"/>
</g>
<rect x="129.8" y="366.6" width="51.2" height="106" fill="none" stroke="#8c8c8c" stroke-width="1"/>
<text x="97.6" y="419.2" font-size="10.3" text-anchor="middle" transform="rotate(-90 97.6 419.2)" stroke-width="0.12">Calcium mobilization</text>
<text x="107.3" y="417" font-size="7.9" text-anchor="middle" transform="rotate(-90 107.3 417)">(relative fluorescence x 10<tspan font-size="5.93" dy="-3.6">-3</tspan><tspan dy="3.6">)</tspan></text>
<text x="155.4" y="497.8" font-size="9.9" text-anchor="middle" stroke-width="0.12">Time (sec)</text>
<line x1="228.1" y1="472.3" x2="230.3" y2="472.3" stroke="#8c8c8c" stroke-width="1"/>
<text x="225.3" y="474.2" font-size="7.6" text-anchor="end">0</text>
<line x1="228.1" y1="451.16" x2="230.3" y2="451.16" stroke="#8c8c8c" stroke-width="1"/>
<text x="225.3" y="453.06" font-size="7.6" text-anchor="end">1</text>
<line x1="228.1" y1="430.02" x2="230.3" y2="430.02" stroke="#8c8c8c" stroke-width="1"/>
<text x="225.3" y="431.92" font-size="7.6" text-anchor="end">2</text>
<line x1="228.1" y1="408.88" x2="230.3" y2="408.88" stroke="#8c8c8c" stroke-width="1"/>
<text x="225.3" y="410.78" font-size="7.6" text-anchor="end">3</text>
<line x1="228.1" y1="387.74" x2="230.3" y2="387.74" stroke="#8c8c8c" stroke-width="1"/>
<text x="225.3" y="389.64" font-size="7.6" text-anchor="end">4</text>
<line x1="228.1" y1="366.6" x2="230.3" y2="366.6" stroke="#8c8c8c" stroke-width="1"/>
<text x="225.3" y="368.5" font-size="7.6" text-anchor="end">5</text>
<line x1="230.3" y1="472.3" x2="230.3" y2="473.8" stroke="#8c8c8c" stroke-width="1"/>
<text x="230.3" y="484.8" font-size="7.6" text-anchor="middle">0</text>
<line x1="240.52" y1="472.3" x2="240.52" y2="473.8" stroke="#8c8c8c" stroke-width="1"/>
<text x="240.52" y="484.8" font-size="7.6" text-anchor="middle">4</text>
<line x1="250.74" y1="472.3" x2="250.74" y2="473.8" stroke="#8c8c8c" stroke-width="1"/>
<text x="250.74" y="484.8" font-size="7.6" text-anchor="middle">8</text>
<line x1="260.96" y1="472.3" x2="260.96" y2="473.8" stroke="#8c8c8c" stroke-width="1"/>
<text x="260.96" y="484.8" font-size="7.6" text-anchor="middle">12</text>
<line x1="271.18" y1="472.3" x2="271.18" y2="473.8" stroke="#8c8c8c" stroke-width="1"/>
<text x="271.18" y="484.8" font-size="7.6" text-anchor="middle">16</text>
<line x1="281.4" y1="472.3" x2="281.4" y2="473.8" stroke="#8c8c8c" stroke-width="1"/>
<text x="281.4" y="484.8" font-size="7.6" text-anchor="middle">20</text>
<g>
<polyline points="230.3,472.3 231.32,471.48 232.34,469.83 233.37,460.76 234.39,447.57 235.41,432.73 236.43,417.89 237.45,405.52 238.48,396.45 240.01,389.85 241.03,392.32 242.05,394.79 243.08,397.25 244.1,401.06 245.12,404.86 246.14,408.67 247.16,412.47 248.19,416.28 249.21,419.66 250.23,423.04 251.25,426 252.27,428.54 253.3,431.08 254.32,433.02 255.34,434.97 256.36,436.66 257.38,438.1 258.41,439.53 259.43,440.55 260.45,441.56 261.47,442.28 262.49,442.7 263.51,443.13 264.54,443.38 265.56,443.63 266.58,443.82 267.6,443.95 268.62,444.08 269.65,444.2 270.67,444.33 271.69,444.46 272.71,444.59 273.74,444.71 274.76,444.84 275.78,444.97 276.8,445.07 277.82,445.15 278.84,445.23 279.87,445.31 280.89,445.39" fill="none" stroke="#000" stroke-width="0.6"/>
<polyline points="230.3,472.3 231.32,471.56 232.34,470.08 233.37,461.94 234.39,450.1 235.41,436.78 236.43,423.47 237.45,412.37 238.48,404.23 239.5,399.79 241.03,398.31 242.05,399.58 243.08,400.85 244.1,403.38 245.12,405.92 246.14,408.71 247.16,411.76 248.19,414.8 249.21,417.76 250.23,420.72 251.25,423.42 252.27,425.88 253.3,428.33 254.32,430.27 255.34,432.22 256.36,433.99 257.38,435.6 258.41,437.21 259.43,438.39 260.45,439.58 261.47,440.42 262.49,440.93 263.51,441.44 264.54,441.77 265.56,442.11 266.58,442.37 267.6,442.53 268.62,442.7 269.65,442.87 270.67,443.04 271.69,443.19 272.71,443.32 273.74,443.44 274.76,443.57 275.78,443.7 276.8,443.82 277.82,443.94 278.84,444.06 279.87,444.18 280.89,444.3" fill="none" stroke="#000" stroke-width="0.75"/>
<polyline points="230.3,472.3 231.32,471.74 232.34,470.62 233.37,464.46 234.39,455.49 235.41,445.41 236.43,435.33 237.45,426.92 238.48,420.76 239.5,417.4 240.52,416.28 241.54,417.55 242.56,418.82 243.59,420.72 244.61,423.26 245.63,425.79 246.65,428.5 247.67,431.2 248.7,433.74 249.72,436.11 250.74,438.48 251.76,440.34 252.78,442.2 253.81,443.8 254.83,445.16 255.85,446.51 256.87,447.35 257.89,448.2 258.92,448.88 259.94,449.38 260.96,449.89 261.98,450.15 263,450.4 264.03,450.65 265.05,450.91 266.07,451.16 267.09,451.29 268.11,451.41 269.14,451.54 270.16,451.67 271.18,451.79 272.2,451.88 273.22,451.96 274.25,452.05 275.27,452.13 276.29,452.22 277.31,452.3 278.33,452.38 279.36,452.46 280.38,452.54 281.4,452.62" fill="none" stroke="#000" stroke-width="0.75"/>
<circle cx="230.3" cy="472.3" r="1.45" fill="#fff" stroke="#111" stroke-width="0.55"/>
<circle cx="231.32" cy="471.48" r="1.45" fill="#fff" stroke="#111" stroke-width="0.55"/>
<circle cx="232.34" cy="469.83" r="1.45" fill="#fff" stroke="#111" stroke-width="0.55"/>
<circle cx="233.37" cy="460.76" r="1.45" fill="#fff" stroke="#111" stroke-width="0.55"/>
<circle cx="234.39" cy="447.57" r="1.45" fill="#fff" stroke="#111" stroke-width="0.55"/>
<circle cx="235.41" cy="432.73" r="1.45" fill="#fff" stroke="#111" stroke-width="0.55"/>
<circle cx="236.43" cy="417.89" r="1.45" fill="#fff" stroke="#111" stroke-width="0.55"/>
<circle cx="237.45" cy="405.52" r="1.45" fill="#fff" stroke="#111" stroke-width="0.55"/>
<circle cx="238.48" cy="396.45" r="1.45" fill="#fff" stroke="#111" stroke-width="0.55"/>
<circle cx="240.01" cy="389.85" r="1.45" fill="#fff" stroke="#111" stroke-width="0.55"/>
<circle cx="241.03" cy="392.32" r="1.45" fill="#fff" stroke="#111" stroke-width="0.55"/>
<circle cx="242.05" cy="394.79" r="1.45" fill="#fff" stroke="#111" stroke-width="0.55"/>
<circle cx="243.08" cy="397.25" r="1.45" fill="#fff" stroke="#111" stroke-width="0.55"/>
<circle cx="244.1" cy="401.06" r="1.45" fill="#fff" stroke="#111" stroke-width="0.55"/>
<circle cx="245.12" cy="404.86" r="1.45" fill="#fff" stroke="#111" stroke-width="0.55"/>
<circle cx="246.14" cy="408.67" r="1.45" fill="#fff" stroke="#111" stroke-width="0.55"/>
<circle cx="247.16" cy="412.47" r="1.45" fill="#fff" stroke="#111" stroke-width="0.55"/>
<circle cx="248.19" cy="416.28" r="1.45" fill="#fff" stroke="#111" stroke-width="0.55"/>
<circle cx="249.21" cy="419.66" r="1.45" fill="#fff" stroke="#111" stroke-width="0.55"/>
<circle cx="250.23" cy="423.04" r="1.45" fill="#fff" stroke="#111" stroke-width="0.55"/>
<circle cx="251.25" cy="426" r="1.45" fill="#fff" stroke="#111" stroke-width="0.55"/>
<circle cx="252.27" cy="428.54" r="1.45" fill="#fff" stroke="#111" stroke-width="0.55"/>
<circle cx="253.3" cy="431.08" r="1.45" fill="#fff" stroke="#111" stroke-width="0.55"/>
<circle cx="254.32" cy="433.02" r="1.45" fill="#fff" stroke="#111" stroke-width="0.55"/>
<circle cx="255.34" cy="434.97" r="1.45" fill="#fff" stroke="#111" stroke-width="0.55"/>
<circle cx="256.36" cy="436.66" r="1.45" fill="#fff" stroke="#111" stroke-width="0.55"/>
<circle cx="257.38" cy="438.1" r="1.45" fill="#fff" stroke="#111" stroke-width="0.55"/>
<circle cx="258.41" cy="439.53" r="1.45" fill="#fff" stroke="#111" stroke-width="0.55"/>
<circle cx="259.43" cy="440.55" r="1.45" fill="#fff" stroke="#111" stroke-width="0.55"/>
<circle cx="260.45" cy="441.56" r="1.45" fill="#fff" stroke="#111" stroke-width="0.55"/>
<circle cx="261.47" cy="442.28" r="1.45" fill="#fff" stroke="#111" stroke-width="0.55"/>
<circle cx="262.49" cy="442.7" r="1.45" fill="#fff" stroke="#111" stroke-width="0.55"/>
<circle cx="263.51" cy="443.13" r="1.45" fill="#fff" stroke="#111" stroke-width="0.55"/>
<circle cx="264.54" cy="443.38" r="1.45" fill="#fff" stroke="#111" stroke-width="0.55"/>
<circle cx="265.56" cy="443.63" r="1.45" fill="#fff" stroke="#111" stroke-width="0.55"/>
<circle cx="266.58" cy="443.82" r="1.45" fill="#fff" stroke="#111" stroke-width="0.55"/>
<circle cx="267.6" cy="443.95" r="1.45" fill="#fff" stroke="#111" stroke-width="0.55"/>
<circle cx="268.62" cy="444.08" r="1.45" fill="#fff" stroke="#111" stroke-width="0.55"/>
<circle cx="269.65" cy="444.2" r="1.45" fill="#fff" stroke="#111" stroke-width="0.55"/>
<circle cx="270.67" cy="444.33" r="1.45" fill="#fff" stroke="#111" stroke-width="0.55"/>
<circle cx="271.69" cy="444.46" r="1.45" fill="#fff" stroke="#111" stroke-width="0.55"/>
<circle cx="272.71" cy="444.59" r="1.45" fill="#fff" stroke="#111" stroke-width="0.55"/>
<circle cx="273.74" cy="444.71" r="1.45" fill="#fff" stroke="#111" stroke-width="0.55"/>
<circle cx="274.76" cy="444.84" r="1.45" fill="#fff" stroke="#111" stroke-width="0.55"/>
<circle cx="275.78" cy="444.97" r="1.45" fill="#fff" stroke="#111" stroke-width="0.55"/>
<circle cx="276.8" cy="445.07" r="1.45" fill="#fff" stroke="#111" stroke-width="0.55"/>
<circle cx="277.82" cy="445.15" r="1.45" fill="#fff" stroke="#111" stroke-width="0.55"/>
<circle cx="278.84" cy="445.23" r="1.45" fill="#fff" stroke="#111" stroke-width="0.55"/>
<circle cx="279.87" cy="445.31" r="1.45" fill="#fff" stroke="#111" stroke-width="0.55"/>
<circle cx="280.89" cy="445.39" r="1.45" fill="#fff" stroke="#111" stroke-width="0.55"/>
<path d="M230.3 470.8L231.7 473.4L228.9 473.4Z" fill="#000"/>
<path d="M231.32 470.06L232.72 472.66L229.92 472.66Z" fill="#000"/>
<path d="M232.34 468.58L233.74 471.18L230.94 471.18Z" fill="#000"/>
<path d="M233.37 460.44L234.77 463.04L231.97 463.04Z" fill="#000"/>
<path d="M234.39 448.6L235.79 451.2L232.99 451.2Z" fill="#000"/>
<path d="M235.41 435.28L236.81 437.88L234.01 437.88Z" fill="#000"/>
<path d="M236.43 421.97L237.83 424.57L235.03 424.57Z" fill="#000"/>
<path d="M237.45 410.87L238.85 413.47L236.05 413.47Z" fill="#000"/>
<path d="M238.48 402.73L239.88 405.33L237.08 405.33Z" fill="#000"/>
<path d="M239.5 398.29L240.9 400.89L238.1 400.89Z" fill="#000"/>
<path d="M241.03 396.81L242.43 399.41L239.63 399.41Z" fill="#000"/>
<path d="M242.05 398.08L243.45 400.68L240.65 400.68Z" fill="#000"/>
<path d="M243.08 399.35L244.48 401.95L241.68 401.95Z" fill="#000"/>
<path d="M244.1 401.88L245.5 404.48L242.7 404.48Z" fill="#000"/>
<path d="M245.12 404.42L246.52 407.02L243.72 407.02Z" fill="#000"/>
<path d="M246.14 407.21L247.54 409.81L244.74 409.81Z" fill="#000"/>
<path d="M247.16 410.26L248.56 412.86L245.76 412.86Z" fill="#000"/>
<path d="M248.19 413.3L249.59 415.9L246.78 415.9Z" fill="#000"/>
<path d="M249.21 416.26L250.61 418.86L247.81 418.86Z" fill="#000"/>
<path d="M250.23 419.22L251.63 421.82L248.83 421.82Z" fill="#000"/>
<path d="M251.25 421.92L252.65 424.52L249.85 424.52Z" fill="#000"/>
<path d="M252.27 424.38L253.67 426.98L250.87 426.98Z" fill="#000"/>
<path d="M253.3 426.83L254.7 429.43L251.9 429.43Z" fill="#000"/>
<path d="M254.32 428.77L255.72 431.37L252.92 431.37Z" fill="#000"/>
<path d="M255.34 430.72L256.74 433.32L253.94 433.32Z" fill="#000"/>
<path d="M256.36 432.49L257.76 435.09L254.96 435.09Z" fill="#000"/>
<path d="M257.38 434.1L258.78 436.7L255.98 436.7Z" fill="#000"/>
<path d="M258.41 435.71L259.81 438.31L257.01 438.31Z" fill="#000"/>
<path d="M259.43 436.89L260.83 439.49L258.03 439.49Z" fill="#000"/>
<path d="M260.45 438.08L261.85 440.68L259.05 440.68Z" fill="#000"/>
<path d="M261.47 438.92L262.87 441.52L260.07 441.52Z" fill="#000"/>
<path d="M262.49 439.43L263.89 442.03L261.09 442.03Z" fill="#000"/>
<path d="M263.51 439.94L264.91 442.54L262.12 442.54Z" fill="#000"/>
<path d="M264.54 440.27L265.94 442.87L263.14 442.87Z" fill="#000"/>
<path d="M265.56 440.61L266.96 443.21L264.16 443.21Z" fill="#000"/>
<path d="M266.58 440.87L267.98 443.47L265.18 443.47Z" fill="#000"/>
<path d="M267.6 441.03L269 443.63L266.2 443.63Z" fill="#000"/>
<path d="M268.62 441.2L270.02 443.8L267.23 443.8Z" fill="#000"/>
<path d="M269.65 441.37L271.05 443.97L268.25 443.97Z" fill="#000"/>
<path d="M270.67 441.54L272.07 444.14L269.27 444.14Z" fill="#000"/>
<path d="M271.69 441.69L273.09 444.29L270.29 444.29Z" fill="#000"/>
<path d="M272.71 441.82L274.11 444.42L271.31 444.42Z" fill="#000"/>
<path d="M273.74 441.94L275.13 444.54L272.34 444.54Z" fill="#000"/>
<path d="M274.76 442.07L276.16 444.67L273.36 444.67Z" fill="#000"/>
<path d="M275.78 442.2L277.18 444.8L274.38 444.8Z" fill="#000"/>
<path d="M276.8 442.32L278.2 444.92L275.4 444.92Z" fill="#000"/>
<path d="M277.82 442.44L279.22 445.04L276.42 445.04Z" fill="#000"/>
<path d="M278.84 442.56L280.24 445.16L277.44 445.16Z" fill="#000"/>
<path d="M279.87 442.68L281.27 445.28L278.47 445.28Z" fill="#000"/>
<path d="M280.89 442.8L282.29 445.4L279.49 445.4Z" fill="#000"/>
<rect x="229.05" y="471.05" width="2.5" height="2.5" fill="#000"/>
<rect x="230.07" y="470.49" width="2.5" height="2.5" fill="#000"/>
<rect x="231.09" y="469.37" width="2.5" height="2.5" fill="#000"/>
<rect x="232.12" y="463.21" width="2.5" height="2.5" fill="#000"/>
<rect x="233.14" y="454.24" width="2.5" height="2.5" fill="#000"/>
<rect x="234.16" y="444.16" width="2.5" height="2.5" fill="#000"/>
<rect x="235.18" y="434.08" width="2.5" height="2.5" fill="#000"/>
<rect x="236.2" y="425.67" width="2.5" height="2.5" fill="#000"/>
<rect x="237.23" y="419.51" width="2.5" height="2.5" fill="#000"/>
<rect x="238.25" y="416.15" width="2.5" height="2.5" fill="#000"/>
<rect x="239.27" y="415.03" width="2.5" height="2.5" fill="#000"/>
<rect x="240.29" y="416.3" width="2.5" height="2.5" fill="#000"/>
<rect x="241.31" y="417.57" width="2.5" height="2.5" fill="#000"/>
<rect x="242.34" y="419.47" width="2.5" height="2.5" fill="#000"/>
<rect x="243.36" y="422.01" width="2.5" height="2.5" fill="#000"/>
<rect x="244.38" y="424.54" width="2.5" height="2.5" fill="#000"/>
<rect x="245.4" y="427.25" width="2.5" height="2.5" fill="#000"/>
<rect x="246.42" y="429.95" width="2.5" height="2.5" fill="#000"/>
<rect x="247.45" y="432.49" width="2.5" height="2.5" fill="#000"/>
<rect x="248.47" y="434.86" width="2.5" height="2.5" fill="#000"/>
<rect x="249.49" y="437.23" width="2.5" height="2.5" fill="#000"/>
<rect x="250.51" y="439.09" width="2.5" height="2.5" fill="#000"/>
<rect x="251.53" y="440.95" width="2.5" height="2.5" fill="#000"/>
<rect x="252.56" y="442.55" width="2.5" height="2.5" fill="#000"/>
<rect x="253.58" y="443.91" width="2.5" height="2.5" fill="#000"/>
<rect x="254.6" y="445.26" width="2.5" height="2.5" fill="#000"/>
<rect x="255.62" y="446.1" width="2.5" height="2.5" fill="#000"/>
<rect x="256.64" y="446.95" width="2.5" height="2.5" fill="#000"/>
<rect x="257.67" y="447.63" width="2.5" height="2.5" fill="#000"/>
<rect x="258.69" y="448.13" width="2.5" height="2.5" fill="#000"/>
<rect x="259.71" y="448.64" width="2.5" height="2.5" fill="#000"/>
<rect x="260.73" y="448.9" width="2.5" height="2.5" fill="#000"/>
<rect x="261.75" y="449.15" width="2.5" height="2.5" fill="#000"/>
<rect x="262.78" y="449.4" width="2.5" height="2.5" fill="#000"/>
<rect x="263.8" y="449.66" width="2.5" height="2.5" fill="#000"/>
<rect x="264.82" y="449.91" width="2.5" height="2.5" fill="#000"/>
<rect x="265.84" y="450.04" width="2.5" height="2.5" fill="#000"/>
<rect x="266.86" y="450.16" width="2.5" height="2.5" fill="#000"/>
<rect x="267.89" y="450.29" width="2.5" height="2.5" fill="#000"/>
<rect x="268.91" y="450.42" width="2.5" height="2.5" fill="#000"/>
<rect x="269.93" y="450.54" width="2.5" height="2.5" fill="#000"/>
<rect x="270.95" y="450.63" width="2.5" height="2.5" fill="#000"/>
<rect x="271.97" y="450.71" width="2.5" height="2.5" fill="#000"/>
<rect x="273" y="450.8" width="2.5" height="2.5" fill="#000"/>
<rect x="274.02" y="450.88" width="2.5" height="2.5" fill="#000"/>
<rect x="275.04" y="450.97" width="2.5" height="2.5" fill="#000"/>
<rect x="276.06" y="451.05" width="2.5" height="2.5" fill="#000"/>
<rect x="277.08" y="451.13" width="2.5" height="2.5" fill="#000"/>
<rect x="278.11" y="451.21" width="2.5" height="2.5" fill="#000"/>
<rect x="279.13" y="451.29" width="2.5" height="2.5" fill="#000"/>
<rect x="280.15" y="451.37" width="2.5" height="2.5" fill="#000"/>
</g>
<rect x="230.3" y="366.6" width="51.1" height="105.7" fill="none" stroke="#8c8c8c" stroke-width="1"/>
<text x="200.2" y="418.45" font-size="9.7" text-anchor="middle" transform="rotate(-90 200.2 418.45)" stroke-width="0.12">Superoxide production</text>
<text x="213.6" y="417.45" font-size="8.6" text-anchor="middle" transform="rotate(-90 213.6 417.45)">(relative light unit x 10<tspan font-size="6.45" dy="-3.6">-6</tspan><tspan dy="3.6">)</tspan></text>
<text x="255.85" y="497.8" font-size="9.9" text-anchor="middle" stroke-width="0.12">Time (min)</text>
<g filter="url(#bl)">
<rect x="333.6" y="62.6" width="72" height="15.2" fill="#c6c6c6"/>
<rect x="333.6" y="62.6" width="9" height="15.2" fill="#fff" opacity="0.12"/>
<rect x="357" y="62.6" width="2" height="15.2" fill="#fff" opacity="0.1"/>
<rect x="370" y="62.6" width="12" height="15.2" fill="#fff" opacity="0.1"/>
<rect x="394" y="62.6" width="11.6" height="15.2" fill="#000" opacity="0.05"/>
<ellipse cx="338.5" cy="68.7" rx="4" ry="1" fill="#000" opacity="0.1"/>
<ellipse cx="351.2" cy="70.4" rx="5" ry="0.9" fill="#000" opacity="0.28"/>
<ellipse cx="364.3" cy="70.2" rx="4" ry="1" fill="#000" opacity="0.06"/>
<ellipse cx="388.8" cy="70.4" rx="5.5" ry="0.95" fill="#000" opacity="0.55"/>
<ellipse cx="399.6" cy="69.7" rx="0.8" ry="7" fill="#000" opacity="0.4"/>
<ellipse cx="399.6" cy="70.7" rx="4" ry="0.8" fill="#000" opacity="0.22"/>
<rect x="333.6" y="79.6" width="72" height="13" fill="#b6b6b6"/>
<rect x="333.6" y="79.6" width="72" height="13" fill="#000" opacity="0"/>
<ellipse cx="338.5" cy="86.7" rx="4.5" ry="1.1" fill="#000" opacity="0.55"/>
<ellipse cx="351.2" cy="86.7" rx="5" ry="1.3" fill="#000" opacity="0.7"/>
<ellipse cx="364.3" cy="86.9" rx="4.5" ry="1.1" fill="#000" opacity="0.5"/>
<ellipse cx="376.5" cy="86.4" rx="4.5" ry="1" fill="#000" opacity="0.45"/>
<ellipse cx="388.8" cy="86.3" rx="5" ry="1.4" fill="#000" opacity="0.85"/>
<ellipse cx="399.6" cy="85.7" rx="4" ry="1.1" fill="#000" opacity="0.6" transform="rotate(-8 399.6 85.7)"/>
<ellipse cx="338.5" cy="89.3" rx="4.5" ry="0.6" fill="#000" opacity="0.12"/>
<ellipse cx="351.2" cy="89.3" rx="4.5" ry="0.6" fill="#000" opacity="0.12"/>
<ellipse cx="364.3" cy="89.5" rx="4.5" ry="0.6" fill="#000" opacity="0.12"/>
<ellipse cx="376.5" cy="89.1" rx="4.5" ry="0.6" fill="#000" opacity="0.1"/>
<rect x="333.6" y="94.8" width="72" height="13.6" fill="#b0b0b0"/>
<rect x="332.75" y="99.95" width="11.5" height="3.9" rx="1.9" fill="#000" opacity="1"/>
<rect x="345.45" y="99.95" width="11.5" height="3.9" rx="1.9" fill="#000" opacity="1"/>
<rect x="358.55" y="100.15" width="11.5" height="3.9" rx="1.9" fill="#000" opacity="1"/>
<rect x="371" y="100.15" width="11" height="3.9" rx="1.9" fill="#000" opacity="1"/>
<rect x="383.3" y="99.6" width="11" height="3.8" rx="1.9" fill="#000" opacity="1" transform="rotate(-3 388.8 101.5)"/>
<rect x="394.6" y="98.8" width="10" height="3.8" rx="1.9" fill="#000" opacity="1" transform="rotate(-6 399.6 100.7)"/>
</g>
<text x="328.5" y="74.5" font-size="8.5" text-anchor="end">HIF-1&#945;</text>
<text x="328.5" y="88.1" font-size="8.5" text-anchor="end">PPAR-&#947;</text>
<text x="328.5" y="103.4" font-size="8.5" text-anchor="end">&#946;-Actin</text>
<text x="338.5" y="44.8" font-size="8.5" text-anchor="middle">N</text>
<text x="351.2" y="44.8" font-size="8.5" text-anchor="middle">H</text>
<text x="364.3" y="44.8" font-size="8.5" text-anchor="middle">H</text>
<text x="376.5" y="44.8" font-size="8.5" text-anchor="middle">N</text>
<text x="388.8" y="44.8" font-size="8.5" text-anchor="middle">H</text>
<text x="399.6" y="44.8" font-size="8.5" text-anchor="middle">H</text>
<text x="330" y="57.8" font-size="8.5" text-anchor="end">GW9662</text>
<line x1="337.2" y1="54.8" x2="339.8" y2="54.8" stroke="#333" stroke-width="0.9"/>
<line x1="349.9" y1="54.8" x2="352.5" y2="54.8" stroke="#333" stroke-width="0.9"/>
<line x1="362.3" y1="54.8" x2="366.3" y2="54.8" stroke="#222" stroke-width="1"/>
<line x1="364.3" y1="52.8" x2="364.3" y2="56.8" stroke="#222" stroke-width="1"/>
<line x1="375.2" y1="54.8" x2="377.8" y2="54.8" stroke="#333" stroke-width="0.9"/>
<line x1="387.5" y1="54.8" x2="390.1" y2="54.8" stroke="#333" stroke-width="0.9"/>
<line x1="397.6" y1="54.8" x2="401.6" y2="54.8" stroke="#222" stroke-width="1"/>
<line x1="399.6" y1="52.8" x2="399.6" y2="56.8" stroke="#222" stroke-width="1"/>
<rect x="333.6" y="105" width="72" height="3.4" fill="#fff" opacity="0.25"/>
<g filter="url(#bl)">
<rect x="331.5" y="231" width="71.9" height="14.8" fill="#d2d2d2"/>
<rect x="331.5" y="231" width="6" height="14.8" fill="#000" opacity="0.05"/>
<rect x="343" y="231" width="1" height="14.8" fill="#000" opacity="0.04"/>
<rect x="355.5" y="231" width="1" height="14.8" fill="#000" opacity="0.04"/>
<rect x="366.5" y="231" width="1" height="14.8" fill="#000" opacity="0.05"/>
<rect x="378.5" y="231" width="1" height="14.8" fill="#000" opacity="0.04"/>
<rect x="391" y="231" width="1" height="14.8" fill="#000" opacity="0.03"/>
<rect x="367" y="231" width="11" height="14.8" fill="#fff" opacity="0.12"/>
<ellipse cx="349.3" cy="238" rx="4.75" ry="1.2" fill="#000" opacity="0.5"/>
<ellipse cx="385" cy="238.8" rx="5" ry="1.2" fill="#000" opacity="0.42"/>
<rect x="331.5" y="247.8" width="71.9" height="12.9" fill="#b8b8b8"/>
<ellipse cx="336.9" cy="254.25" rx="4.5" ry="1" fill="#000" opacity="0.55"/>
<ellipse cx="349.3" cy="254.25" rx="4.5" ry="1.1" fill="#000" opacity="0.62"/>
<ellipse cx="361.1" cy="254.55" rx="4.5" ry="0.9" fill="#000" opacity="0.38"/>
<ellipse cx="372.6" cy="254.75" rx="4" ry="0.9" fill="#000" opacity="0.38"/>
<ellipse cx="385" cy="254.75" rx="4.5" ry="1.2" fill="#000" opacity="0.72"/>
<ellipse cx="396.8" cy="254.45" rx="4.5" ry="1" fill="#000" opacity="0.5" transform="rotate(-6 396.8 254.45)"/>
<rect x="331.5" y="262.6" width="71.9" height="12.2" fill="#adadad"/>
<rect x="331.4" y="264.6" width="11" height="6.4" rx="3" fill="#000" opacity="1"/>
<rect x="343.55" y="264.6" width="11.5" height="6.4" rx="3" fill="#000" opacity="1" transform="rotate(-3 349.3 267.8)"/>
<rect x="355.7" y="264.9" width="10.8" height="6.2" rx="3" fill="#000" opacity="1"/>
<rect x="367.5" y="265.2" width="10.2" height="6" rx="3" fill="#000" opacity="1"/>
<rect x="379.5" y="264.7" width="11" height="6.4" rx="3" fill="#000" opacity="1"/>
<rect x="391.55" y="264.8" width="10.5" height="6.2" rx="3" fill="#000" opacity="1"/>
</g>
<text x="326" y="241.8" font-size="8.5" text-anchor="end">HIF-1&#945;</text>
<text x="326" y="254.3" font-size="8.5" text-anchor="end">PPAR-&#947;</text>
<text x="326" y="267.2" font-size="8.5" text-anchor="end">&#946;-Actin</text>
<text x="327.5" y="215.3" font-size="8.5" text-anchor="end">CoCl<tspan font-size="70%" dy="2">2</tspan></text>
<line x1="335.6" y1="212.3" x2="338.2" y2="212.3" stroke="#333" stroke-width="0.9"/>
<line x1="347.3" y1="212.3" x2="351.3" y2="212.3" stroke="#222" stroke-width="1"/>
<line x1="349.3" y1="210.3" x2="349.3" y2="214.3" stroke="#222" stroke-width="1"/>
<line x1="359.1" y1="212.3" x2="363.1" y2="212.3" stroke="#222" stroke-width="1"/>
<line x1="361.1" y1="210.3" x2="361.1" y2="214.3" stroke="#222" stroke-width="1"/>
<line x1="371.3" y1="212.3" x2="373.9" y2="212.3" stroke="#333" stroke-width="0.9"/>
<line x1="383" y1="212.3" x2="387" y2="212.3" stroke="#222" stroke-width="1"/>
<line x1="385" y1="210.3" x2="385" y2="214.3" stroke="#222" stroke-width="1"/>
<line x1="394.8" y1="212.3" x2="398.8" y2="212.3" stroke="#222" stroke-width="1"/>
<line x1="396.8" y1="210.3" x2="396.8" y2="214.3" stroke="#222" stroke-width="1"/>
<text x="327.5" y="228" font-size="8.5" text-anchor="end">GW9662</text>
<line x1="335.6" y1="225" x2="338.2" y2="225" stroke="#333" stroke-width="0.9"/>
<line x1="348" y1="225" x2="350.6" y2="225" stroke="#333" stroke-width="0.9"/>
<line x1="359.1" y1="225" x2="363.1" y2="225" stroke="#222" stroke-width="1"/>
<line x1="361.1" y1="223" x2="361.1" y2="227" stroke="#222" stroke-width="1"/>
<line x1="371.3" y1="225" x2="373.9" y2="225" stroke="#333" stroke-width="0.9"/>
<line x1="383.7" y1="225" x2="386.3" y2="225" stroke="#333" stroke-width="0.9"/>
<line x1="394.8" y1="225" x2="398.8" y2="225" stroke="#222" stroke-width="1"/>
<line x1="396.8" y1="223" x2="396.8" y2="227" stroke="#222" stroke-width="1"/>
<rect x="331.5" y="271.5" width="72" height="3.3" fill="#fff" opacity="0.3"/>
<g filter="url(#bl)">
<rect x="331.8" y="407.7" width="71.6" height="12.5" fill="#cacaca"/>
<rect x="343" y="407.7" width="1" height="12.5" fill="#000" opacity="0.04"/>
<rect x="355" y="407.7" width="1" height="12.5" fill="#000" opacity="0.04"/>
<rect x="366.5" y="407.7" width="1" height="12.5" fill="#000" opacity="0.04"/>
<rect x="378" y="407.7" width="1" height="12.5" fill="#000" opacity="0.04"/>
<rect x="390.5" y="407.7" width="1" height="12.5" fill="#000" opacity="0.04"/>
<rect x="331.8" y="407.7" width="11" height="12.5" fill="#fff" opacity="0.08"/>
<rect x="367" y="407.7" width="11" height="12.5" fill="#fff" opacity="0.1"/>
<ellipse cx="349.4" cy="414.35" rx="4.5" ry="1.1" fill="#000" opacity="0.5"/>
<ellipse cx="361" cy="414.15" rx="4" ry="0.9" fill="#000" opacity="0.18"/>
<ellipse cx="384.4" cy="413.05" rx="4.75" ry="1.1" fill="#000" opacity="0.58"/>
<ellipse cx="396.6" cy="413.15" rx="4" ry="0.9" fill="#000" opacity="0.14"/>
<rect x="331.8" y="422" width="71.6" height="12.3" fill="#a9a9a9"/>
<ellipse cx="337" cy="427.75" rx="4" ry="0.9" fill="#000" opacity="0.25"/>
<ellipse cx="349.4" cy="427.95" rx="5" ry="1.4" fill="#000" opacity="0.88"/>
<ellipse cx="361" cy="427.65" rx="4.5" ry="1.2" fill="#000" opacity="0.75"/>
<ellipse cx="372.4" cy="427.55" rx="4.5" ry="1.1" fill="#000" opacity="0.62"/>
<ellipse cx="384.4" cy="427.75" rx="4.75" ry="1.25" fill="#000" opacity="0.78"/>
<ellipse cx="396.6" cy="427.25" rx="4" ry="0.9" fill="#000" opacity="0.4" transform="rotate(-6 396.6 427.25)"/>
<rect x="331.8" y="435.7" width="71.6" height="10.6" fill="#bcbcbc"/>
<rect x="332.2" y="438" width="9.6" height="5.4" rx="2.7" fill="#000" opacity="1"/>
<rect x="344.4" y="438.3" width="10" height="5.4" rx="2.7" fill="#000" opacity="1"/>
<rect x="356.1" y="438.5" width="9.8" height="5.4" rx="2.7" fill="#000" opacity="1"/>
<rect x="367.7" y="438.9" width="9.4" height="5.2" rx="2.6" fill="#000" opacity="1"/>
<rect x="379.5" y="438.4" width="9.8" height="5.4" rx="2.7" fill="#000" opacity="1"/>
<rect x="391.9" y="438.1" width="9.4" height="5.4" rx="2.7" fill="#000" opacity="1"/>
</g>
<text x="327" y="418.4" font-size="8.5" text-anchor="end">HIF-1&#945;</text>
<text x="327" y="430.8" font-size="8.5" text-anchor="end">PPAR-&#947;</text>
<text x="327" y="443.3" font-size="8.5" text-anchor="end">&#946;-Actin</text>
<text x="336.6" y="392.8" font-size="8.5" text-anchor="middle">N</text>
<line x1="335.3" y1="402.7" x2="337.9" y2="402.7" stroke="#333" stroke-width="0.9"/>
<text x="349.5" y="392.8" font-size="8.5" text-anchor="middle">H</text>
<line x1="348.2" y1="402.7" x2="350.8" y2="402.7" stroke="#333" stroke-width="0.9"/>
<text x="360.9" y="392.8" font-size="8.5" text-anchor="middle">H</text>
<line x1="358.9" y1="402.7" x2="362.9" y2="402.7" stroke="#222" stroke-width="1"/>
<line x1="360.9" y1="400.7" x2="360.9" y2="404.7" stroke="#222" stroke-width="1"/>
<text x="372.3" y="392.8" font-size="8.5" text-anchor="middle">N</text>
<line x1="371" y1="402.7" x2="373.6" y2="402.7" stroke="#333" stroke-width="0.9"/>
<text x="383.5" y="392.8" font-size="8.5" text-anchor="middle">H</text>
<line x1="382.2" y1="402.7" x2="384.8" y2="402.7" stroke="#333" stroke-width="0.9"/>
<text x="395" y="392.8" font-size="8.5" text-anchor="middle">H</text>
<line x1="393" y1="402.7" x2="397" y2="402.7" stroke="#222" stroke-width="1"/>
<line x1="395" y1="400.7" x2="395" y2="404.7" stroke="#222" stroke-width="1"/>
<text x="328.5" y="405.7" font-size="8.5" text-anchor="end">2-ME2</text>
<line x1="434.1" y1="4.9" x2="434.1" y2="110.6" stroke="#b0b0b0" stroke-width="1"/>
<line x1="433.6" y1="110.6" x2="516" y2="110.6" stroke="#777" stroke-width="1"/>
<line x1="431.6" y1="110.6" x2="434.1" y2="110.6" stroke="#a0a0a0" stroke-width="1"/>
<text x="429.6" y="112.5" font-size="7.6" text-anchor="end">0</text>
<line x1="431.6" y1="92.98" x2="434.1" y2="92.98" stroke="#a0a0a0" stroke-width="1"/>
<text x="429.6" y="94.88" font-size="7.6" text-anchor="end">1</text>
<line x1="431.6" y1="75.37" x2="434.1" y2="75.37" stroke="#a0a0a0" stroke-width="1"/>
<text x="429.6" y="77.27" font-size="7.6" text-anchor="end">2</text>
<line x1="431.6" y1="57.75" x2="434.1" y2="57.75" stroke="#a0a0a0" stroke-width="1"/>
<text x="429.6" y="59.65" font-size="7.6" text-anchor="end">3</text>
<line x1="431.6" y1="40.13" x2="434.1" y2="40.13" stroke="#a0a0a0" stroke-width="1"/>
<text x="429.6" y="42.03" font-size="7.6" text-anchor="end">4</text>
<line x1="431.6" y1="22.52" x2="434.1" y2="22.52" stroke="#a0a0a0" stroke-width="1"/>
<text x="429.6" y="24.42" font-size="7.6" text-anchor="end">5</text>
<line x1="431.6" y1="4.9" x2="434.1" y2="4.9" stroke="#a0a0a0" stroke-width="1"/>
<text x="429.6" y="6.8" font-size="7.6" text-anchor="end">6</text>
<line x1="442.2" y1="92.98" x2="442.2" y2="89.99" stroke="#777" stroke-width="0.8"/>
<line x1="440.7" y1="89.99" x2="443.7" y2="89.99" stroke="#777" stroke-width="0.8"/>
<rect x="440.2" y="93.48" width="4" height="17.12" fill="#fff" stroke="#999" stroke-width="1"/>
<line x1="452.8" y1="30.27" x2="452.8" y2="16.88" stroke="#777" stroke-width="0.8"/>
<line x1="451.3" y1="16.88" x2="454.3" y2="16.88" stroke="#777" stroke-width="0.8"/>
<rect x="450.3" y="30.27" width="5" height="80.33" fill="#000"/>
<line x1="463.4" y1="92.98" x2="463.4" y2="89.99" stroke="#777" stroke-width="0.8"/>
<line x1="461.9" y1="89.99" x2="464.9" y2="89.99" stroke="#777" stroke-width="0.8"/>
<rect x="461.4" y="93.48" width="4" height="17.12" fill="#b4b4b4" stroke="#999" stroke-width="1"/>
<line x1="482.8" y1="91.75" x2="482.8" y2="88.23" stroke="#777" stroke-width="0.8"/>
<line x1="481.3" y1="88.23" x2="484.3" y2="88.23" stroke="#777" stroke-width="0.8"/>
<rect x="480.8" y="92.25" width="4" height="18.35" fill="#fff" stroke="#999" stroke-width="1"/>
<line x1="493.4" y1="68.14" x2="493.4" y2="64.27" stroke="#777" stroke-width="0.8"/>
<line x1="491.9" y1="64.27" x2="494.9" y2="64.27" stroke="#777" stroke-width="0.8"/>
<rect x="490.9" y="68.14" width="5" height="42.46" fill="#000"/>
<line x1="504.2" y1="88.23" x2="504.2" y2="87.52" stroke="#777" stroke-width="0.8"/>
<line x1="502.7" y1="87.52" x2="505.7" y2="87.52" stroke="#777" stroke-width="0.8"/>
<rect x="502.1" y="88.73" width="4.2" height="21.87" fill="#b4b4b4" stroke="#999" stroke-width="1"/>
<text x="444.4" y="114.4" font-size="8.5" text-anchor="end" transform="rotate(-90 444.4 114.4)">Normoxia</text>
<text x="454.4" y="114.4" font-size="8.5" text-anchor="end" transform="rotate(-90 454.4 114.4)">Hypoxia</text>
<text x="464.3" y="114.4" font-size="8.5" text-anchor="end" transform="rotate(-90 464.3 114.4)">Hypoxia/</text>
<text x="473.8" y="114.4" font-size="8.5" text-anchor="end" transform="rotate(-90 473.8 114.4)"><tspan font-size="8.2">GW9662</tspan></text>
<text x="484.7" y="114.4" font-size="8.5" text-anchor="end" transform="rotate(-90 484.7 114.4)">Normoxia</text>
<text x="494.6" y="114.4" font-size="8.5" text-anchor="end" transform="rotate(-90 494.6 114.4)">Hypoxia</text>
<text x="504.6" y="114.4" font-size="8.5" text-anchor="end" transform="rotate(-90 504.6 114.4)">Hypoxia/</text>
<text x="514.5" y="114.4" font-size="8.5" text-anchor="end" transform="rotate(-90 514.5 114.4)"><tspan font-size="8.2">GW9662</tspan></text>
<polyline points="441.9,14.4 441.9,12.8 463.6,12.8 463.6,14.4" fill="none" stroke="#777" stroke-width="0.8"/>
<line x1="452.9" y1="12.8" x2="452.9" y2="14.4" stroke="#777" stroke-width="0.8"/>
<text x="447.4" y="13.7" font-size="8.7" text-anchor="middle" stroke-width="0.1" letter-spacing="0.3">**</text>
<text x="458.25" y="13.7" font-size="8.7" text-anchor="middle" stroke-width="0.1" letter-spacing="0.3">**</text>
<polyline points="482.2,62.5 482.2,60.9 503.6,60.9 503.6,62.5" fill="none" stroke="#777" stroke-width="0.8"/>
<line x1="493.4" y1="60.9" x2="493.4" y2="62.5" stroke="#777" stroke-width="0.8"/>
<text x="487.8" y="61.8" font-size="8.7" text-anchor="middle" stroke-width="0.1" letter-spacing="0.3">**</text>
<text x="498.5" y="61.8" font-size="8.7" text-anchor="middle" stroke-width="0.1" letter-spacing="0.3">**</text>
<polyline points="434.9,151.3 434.9,153.8 515,153.8 515,151.3" fill="none" stroke="#999" stroke-width="0.9"/>
<line x1="474.7" y1="153.8" x2="474.7" y2="151.3" stroke="#999" stroke-width="0.9"/>
<text x="455.9" y="166.2" font-size="9.9" text-anchor="middle" stroke-width="0.12">HIF-1&#945;</text>
<text x="495.7" y="166.2" font-size="9.9" text-anchor="middle" stroke-width="0.12">PPAR-&#947;</text>
<text x="419.8" y="56.6" font-size="10" text-anchor="middle" transform="rotate(-90 419.8 56.6)" stroke-width="0.12">Relative protein levels</text>
<line x1="433.6" y1="177.8" x2="433.6" y2="284" stroke="#b0b0b0" stroke-width="1"/>
<line x1="433.1" y1="284" x2="517" y2="284" stroke="#777" stroke-width="1"/>
<line x1="431.1" y1="284" x2="433.6" y2="284" stroke="#a0a0a0" stroke-width="1"/>
<text x="429.1" y="285.9" font-size="7.6" text-anchor="end">0</text>
<line x1="431.1" y1="262.76" x2="433.6" y2="262.76" stroke="#a0a0a0" stroke-width="1"/>
<text x="429.1" y="264.66" font-size="7.6" text-anchor="end">2</text>
<line x1="431.1" y1="241.52" x2="433.6" y2="241.52" stroke="#a0a0a0" stroke-width="1"/>
<text x="429.1" y="243.42" font-size="7.6" text-anchor="end">4</text>
<line x1="431.1" y1="220.28" x2="433.6" y2="220.28" stroke="#a0a0a0" stroke-width="1"/>
<text x="429.1" y="222.18" font-size="7.6" text-anchor="end">6</text>
<line x1="431.1" y1="199.04" x2="433.6" y2="199.04" stroke="#a0a0a0" stroke-width="1"/>
<text x="429.1" y="200.94" font-size="7.6" text-anchor="end">8</text>
<line x1="431.1" y1="177.8" x2="433.6" y2="177.8" stroke="#a0a0a0" stroke-width="1"/>
<text x="429.1" y="179.7" font-size="7.6" text-anchor="end">10</text>
<line x1="440.45" y1="271.26" x2="440.45" y2="268.28" stroke="#777" stroke-width="0.8"/>
<line x1="438.95" y1="268.28" x2="441.95" y2="268.28" stroke="#777" stroke-width="0.8"/>
<rect x="438.6" y="271.76" width="3.7" height="12.24" fill="#fff" stroke="#999" stroke-width="1"/>
<line x1="450.65" y1="200.63" x2="450.65" y2="196.17" stroke="#777" stroke-width="0.8"/>
<line x1="449.15" y1="196.17" x2="452.15" y2="196.17" stroke="#777" stroke-width="0.8"/>
<rect x="448.2" y="200.63" width="4.9" height="83.37" fill="#000"/>
<line x1="461.65" y1="263.82" x2="461.65" y2="256.18" stroke="#777" stroke-width="0.8"/>
<line x1="460.15" y1="256.18" x2="463.15" y2="256.18" stroke="#777" stroke-width="0.8"/>
<rect x="459.8" y="264.32" width="3.7" height="19.68" fill="#b4b4b4" stroke="#999" stroke-width="1"/>
<line x1="482.75" y1="272.85" x2="482.75" y2="270.19" stroke="#777" stroke-width="0.8"/>
<line x1="481.25" y1="270.19" x2="484.25" y2="270.19" stroke="#777" stroke-width="0.8"/>
<rect x="480.9" y="273.35" width="3.7" height="10.65" fill="#fff" stroke="#999" stroke-width="1"/>
<line x1="493.45" y1="262.23" x2="493.45" y2="259.04" stroke="#777" stroke-width="0.8"/>
<line x1="491.95" y1="259.04" x2="494.95" y2="259.04" stroke="#777" stroke-width="0.8"/>
<rect x="491.1" y="262.23" width="4.7" height="21.77" fill="#000"/>
<line x1="503.9" y1="272.32" x2="503.9" y2="270.19" stroke="#777" stroke-width="0.8"/>
<line x1="502.4" y1="270.19" x2="505.4" y2="270.19" stroke="#777" stroke-width="0.8"/>
<rect x="502.1" y="272.82" width="3.6" height="11.18" fill="#b4b4b4" stroke="#999" stroke-width="1"/>
<text x="443.3" y="288.6" font-size="8.5" text-anchor="end" transform="rotate(-90 443.3 288.6)"><tspan font-size="8.1">Control</tspan></text>
<text x="452.8" y="288.6" font-size="8.5" text-anchor="end" transform="rotate(-90 452.8 288.6)">CoCl<tspan font-size="70%" dy="2">2</tspan></text>
<text x="463.7" y="288.6" font-size="8.5" text-anchor="end" transform="rotate(-90 463.7 288.6)">CoCl<tspan font-size="70%" dy="2">2</tspan><tspan dy="-2">/</tspan></text>
<text x="474.3" y="288.6" font-size="8.5" text-anchor="end" transform="rotate(-90 474.3 288.6)"><tspan font-size="8.2">GW9662</tspan></text>
<text x="485.3" y="288.6" font-size="8.5" text-anchor="end" transform="rotate(-90 485.3 288.6)"><tspan font-size="8.1">Control</tspan></text>
<text x="494.9" y="288.6" font-size="8.5" text-anchor="end" transform="rotate(-90 494.9 288.6)">CoCl<tspan font-size="70%" dy="2">2</tspan></text>
<text x="505.2" y="288.6" font-size="8.5" text-anchor="end" transform="rotate(-90 505.2 288.6)">CoCl<tspan font-size="70%" dy="2">2</tspan><tspan dy="-2">/</tspan></text>
<text x="516.8" y="288.6" font-size="8.5" text-anchor="end" transform="rotate(-90 516.8 288.6)"><tspan font-size="8.2">GW9662</tspan></text>
<polyline points="439.7,194 439.7,192.4 462,192.4 462,194" fill="none" stroke="#777" stroke-width="0.8"/>
<line x1="450.6" y1="192.4" x2="450.6" y2="194" stroke="#777" stroke-width="0.8"/>
<text x="445.15" y="193.3" font-size="8.7" text-anchor="middle" stroke-width="0.1" letter-spacing="0.3">**</text>
<text x="456.3" y="193.3" font-size="8.7" text-anchor="middle" stroke-width="0.1" letter-spacing="0.3">**</text>
<polyline points="482.2,256.6 482.2,255 503.4,255 503.4,256.6" fill="none" stroke="#777" stroke-width="0.8"/>
<line x1="493.4" y1="255" x2="493.4" y2="256.6" stroke="#777" stroke-width="0.8"/>
<text x="487.8" y="255.9" font-size="8.7" text-anchor="middle" stroke-width="0.1" letter-spacing="0.3">*</text>
<text x="498.4" y="255.9" font-size="8.7" text-anchor="middle" stroke-width="0.1" letter-spacing="0.3">*</text>
<polyline points="434.4,319.5 434.4,322 515.6,322 515.6,319.5" fill="none" stroke="#999" stroke-width="0.9"/>
<line x1="477.6" y1="322" x2="477.6" y2="319.5" stroke="#999" stroke-width="0.9"/>
<text x="457" y="335.5" font-size="9.9" text-anchor="middle" stroke-width="0.12">HIF-1&#945;</text>
<text x="497.9" y="335.5" font-size="9.9" text-anchor="middle" stroke-width="0.12">PPAR-&#947;</text>
<text x="417.5" y="229.2" font-size="10" text-anchor="middle" transform="rotate(-90 417.5 229.2)" stroke-width="0.12">Relative protein levels</text>
<line x1="433" y1="350.1" x2="433" y2="456.5" stroke="#b0b0b0" stroke-width="1"/>
<line x1="432.5" y1="456.5" x2="513.4" y2="456.5" stroke="#777" stroke-width="1"/>
<line x1="430.5" y1="456.5" x2="433" y2="456.5" stroke="#a0a0a0" stroke-width="1"/>
<text x="428.5" y="458.4" font-size="7.6" text-anchor="end">0</text>
<line x1="430.5" y1="441.3" x2="433" y2="441.3" stroke="#a0a0a0" stroke-width="1"/>
<text x="428.5" y="443.2" font-size="7.6" text-anchor="end">2</text>
<line x1="430.5" y1="426.1" x2="433" y2="426.1" stroke="#a0a0a0" stroke-width="1"/>
<text x="428.5" y="428" font-size="7.6" text-anchor="end">4</text>
<line x1="430.5" y1="410.9" x2="433" y2="410.9" stroke="#a0a0a0" stroke-width="1"/>
<text x="428.5" y="412.8" font-size="7.6" text-anchor="end">6</text>
<line x1="430.5" y1="395.7" x2="433" y2="395.7" stroke="#a0a0a0" stroke-width="1"/>
<text x="428.5" y="397.6" font-size="7.6" text-anchor="end">8</text>
<line x1="430.5" y1="380.5" x2="433" y2="380.5" stroke="#a0a0a0" stroke-width="1"/>
<text x="428.5" y="382.4" font-size="7.6" text-anchor="end">10</text>
<line x1="430.5" y1="365.3" x2="433" y2="365.3" stroke="#a0a0a0" stroke-width="1"/>
<text x="428.5" y="367.2" font-size="7.6" text-anchor="end">12</text>
<line x1="430.5" y1="350.1" x2="433" y2="350.1" stroke="#a0a0a0" stroke-width="1"/>
<text x="428.5" y="352" font-size="7.6" text-anchor="end">14</text>
<line x1="439.3" y1="448.9" x2="439.3" y2="448.52" stroke="#777" stroke-width="0.8"/>
<line x1="437.8" y1="448.52" x2="440.8" y2="448.52" stroke="#777" stroke-width="0.8"/>
<rect x="437.5" y="449.4" width="3.6" height="7.1" fill="#fff" stroke="#999" stroke-width="1"/>
<line x1="449.7" y1="381.64" x2="449.7" y2="356.18" stroke="#777" stroke-width="0.8"/>
<line x1="448.2" y1="356.18" x2="451.2" y2="356.18" stroke="#777" stroke-width="0.8"/>
<rect x="447.4" y="381.64" width="4.6" height="74.86" fill="#000"/>
<line x1="460.35" y1="445.86" x2="460.35" y2="443.2" stroke="#777" stroke-width="0.8"/>
<line x1="458.85" y1="443.2" x2="461.85" y2="443.2" stroke="#777" stroke-width="0.8"/>
<rect x="458.5" y="446.36" width="3.7" height="10.14" fill="#b4b4b4" stroke="#999" stroke-width="1"/>
<line x1="478.85" y1="449.66" x2="478.85" y2="448.52" stroke="#777" stroke-width="0.8"/>
<line x1="477.35" y1="448.52" x2="480.35" y2="448.52" stroke="#777" stroke-width="0.8"/>
<rect x="477.1" y="450.16" width="3.5" height="6.34" fill="#fff" stroke="#999" stroke-width="1"/>
<line x1="489.05" y1="438.64" x2="489.05" y2="436.36" stroke="#777" stroke-width="0.8"/>
<line x1="487.55" y1="436.36" x2="490.55" y2="436.36" stroke="#777" stroke-width="0.8"/>
<rect x="486.7" y="438.64" width="4.7" height="17.86" fill="#000"/>
<line x1="499.7" y1="447" x2="499.7" y2="444.72" stroke="#777" stroke-width="0.8"/>
<line x1="498.2" y1="444.72" x2="501.2" y2="444.72" stroke="#777" stroke-width="0.8"/>
<rect x="497.9" y="447.5" width="3.6" height="9" fill="#b4b4b4" stroke="#999" stroke-width="1"/>
<text x="441.7" y="460.2" font-size="8.5" text-anchor="end" transform="rotate(-90 441.7 460.2)">Normoxia</text>
<text x="452.1" y="460.2" font-size="8.5" text-anchor="end" transform="rotate(-90 452.1 460.2)">Hypoxia</text>
<text x="462.1" y="460.2" font-size="8.5" text-anchor="end" transform="rotate(-90 462.1 460.2)">Hypoxia/</text>
<text x="471.6" y="460.2" font-size="8.5" text-anchor="end" transform="rotate(-90 471.6 460.2)">2-ME2</text>
<text x="480.9" y="460.2" font-size="8.5" text-anchor="end" transform="rotate(-90 480.9 460.2)">Normoxia</text>
<text x="491.5" y="460.2" font-size="8.5" text-anchor="end" transform="rotate(-90 491.5 460.2)">Hypoxia</text>
<text x="501.5" y="460.2" font-size="8.5" text-anchor="end" transform="rotate(-90 501.5 460.2)">Hypoxia/</text>
<text x="510.8" y="460.2" font-size="8.5" text-anchor="end" transform="rotate(-90 510.8 460.2)">2-ME2</text>
<polyline points="437,354.4 437,352.8 462.5,352.8 462.5,354.4" fill="none" stroke="#777" stroke-width="0.8"/>
<line x1="449.7" y1="352.8" x2="449.7" y2="354.4" stroke="#777" stroke-width="0.8"/>
<text x="443.35" y="353.7" font-size="8.7" text-anchor="middle" stroke-width="0.1" letter-spacing="0.3">*</text>
<text x="456.1" y="353.7" font-size="8.7" text-anchor="middle" stroke-width="0.1" letter-spacing="0.3">*</text>
<polyline points="478.8,434.9 478.8,433.3 500,433.3 500,434.9" fill="none" stroke="#777" stroke-width="0.8"/>
<line x1="489" y1="433.3" x2="489" y2="434.9" stroke="#777" stroke-width="0.8"/>
<text x="483.9" y="434.2" font-size="8.7" text-anchor="middle" stroke-width="0.1" letter-spacing="0.3">**</text>
<text x="494.5" y="434.2" font-size="8.7" text-anchor="middle" stroke-width="0.1" letter-spacing="0.3">*</text>
<polyline points="432.7,495.1 432.7,497.6 512.7,497.6 512.7,495.1" fill="none" stroke="#999" stroke-width="0.9"/>
<line x1="470.9" y1="497.6" x2="470.9" y2="495.1" stroke="#999" stroke-width="0.9"/>
<text x="451.9" y="508.9" font-size="9.9" text-anchor="middle" stroke-width="0.12">HIF-1&#945;</text>
<text x="490.2" y="508.9" font-size="9.9" text-anchor="middle" stroke-width="0.12">PPAR-&#947;</text>
<text x="416.3" y="402.1" font-size="10" text-anchor="middle" transform="rotate(-90 416.3 402.1)" stroke-width="0.12">Relative protein levels</text>
</g>
</svg>
</body></html>
